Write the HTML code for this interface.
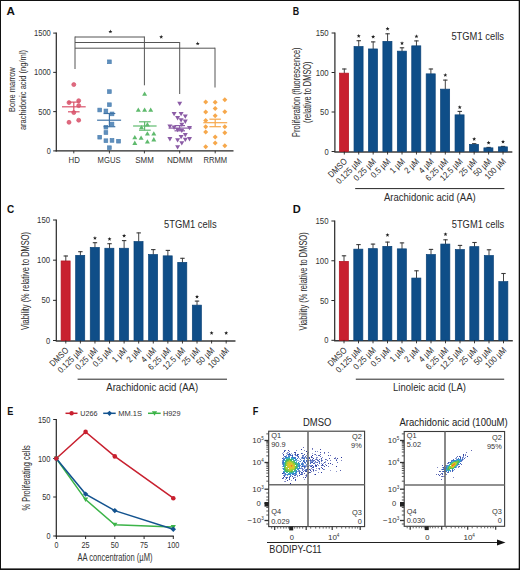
<!DOCTYPE html>
<html><head><meta charset="utf-8"><style>
html,body{margin:0;padding:0;background:#fff;}
svg{display:block;font-family:"Liberation Sans", sans-serif;}
</style></head><body>
<svg width="520" height="570" viewBox="0 0 520 570">
<rect x="0" y="0" width="520" height="570" fill="#fff"/>
<text x="6.60" y="14.70" font-size="11.6" text-anchor="start" fill="#111" font-weight="bold" textLength="8.40" lengthAdjust="spacingAndGlyphs" >A</text>
<text x="292.80" y="14.70" font-size="11.6" text-anchor="start" fill="#111" font-weight="bold" textLength="6.40" lengthAdjust="spacingAndGlyphs" >B</text>
<text x="6.90" y="213.40" font-size="11.6" text-anchor="start" fill="#111" font-weight="bold" textLength="7.20" lengthAdjust="spacingAndGlyphs" >C</text>
<text x="292.70" y="213.20" font-size="11.6" text-anchor="start" fill="#111" font-weight="bold" textLength="8.00" lengthAdjust="spacingAndGlyphs" >D</text>
<text x="7.30" y="414.80" font-size="11.6" text-anchor="start" fill="#111" font-weight="bold" textLength="6.10" lengthAdjust="spacingAndGlyphs" >E</text>
<text x="252.80" y="415.00" font-size="11.6" text-anchor="start" fill="#111" font-weight="bold" textLength="5.60" lengthAdjust="spacingAndGlyphs" >F</text>
<line x1="334.90" y1="32.50" x2="334.90" y2="152.00" stroke="#262626" stroke-width="1.2"/>
<line x1="334.30" y1="151.90" x2="512.33" y2="151.90" stroke="#3a3a3a" stroke-width="1.5"/>
<line x1="331.60" y1="151.50" x2="334.80" y2="151.50" stroke="#262626" stroke-width="1.0"/>
<text x="328.70" y="154.50" font-size="8.3" text-anchor="end" fill="#333" textLength="4.20" lengthAdjust="spacingAndGlyphs" >0</text>
<line x1="331.60" y1="112.00" x2="334.80" y2="112.00" stroke="#262626" stroke-width="1.0"/>
<text x="328.70" y="115.00" font-size="8.3" text-anchor="end" fill="#333" textLength="8.60" lengthAdjust="spacingAndGlyphs" >50</text>
<line x1="331.60" y1="72.50" x2="334.80" y2="72.50" stroke="#262626" stroke-width="1.0"/>
<text x="328.70" y="75.50" font-size="8.3" text-anchor="end" fill="#333" textLength="13.00" lengthAdjust="spacingAndGlyphs" >100</text>
<line x1="331.60" y1="33.00" x2="334.80" y2="33.00" stroke="#262626" stroke-width="1.0"/>
<text x="328.70" y="36.00" font-size="8.3" text-anchor="end" fill="#333" textLength="13.00" lengthAdjust="spacingAndGlyphs" >150</text>
<line x1="344.30" y1="68.60" x2="344.30" y2="73.30" stroke="#444" stroke-width="1.0"/>
<line x1="342.10" y1="69.00" x2="346.50" y2="69.00" stroke="#3a3a3a" stroke-width="1.1"/>
<rect x="339.60" y="73.15" width="9.05" height="78.35" fill="#c8202f" stroke="#b3121f" stroke-width="0.7"/>
<line x1="344.30" y1="151.50" x2="344.30" y2="154.50" stroke="#262626" stroke-width="0.9"/>
<text transform="translate(347.70,161.90) rotate(-45) scale(0.87,1)" font-size="8.8" text-anchor="end" fill="#2b2b2b">DMSO</text>
<line x1="358.73" y1="40.30" x2="358.73" y2="46.70" stroke="#444" stroke-width="1.0"/>
<line x1="356.53" y1="40.70" x2="360.93" y2="40.70" stroke="#3a3a3a" stroke-width="1.1"/>
<rect x="354.03" y="46.55" width="9.05" height="104.95" fill="#0f4e88" stroke="#0a4277" stroke-width="0.7"/>
<polygon points="358.73,33.95 359.26,35.32 360.73,35.40 359.59,36.33 359.96,37.75 358.73,36.95 357.50,37.75 357.87,36.33 356.73,35.40 358.20,35.32" fill="#222"/>
<line x1="358.73" y1="151.50" x2="358.73" y2="154.50" stroke="#262626" stroke-width="0.9"/>
<text transform="translate(362.13,161.90) rotate(-45) scale(0.87,1)" font-size="8.8" text-anchor="end" fill="#2b2b2b">0.125 µM</text>
<line x1="373.16" y1="41.50" x2="373.16" y2="49.10" stroke="#444" stroke-width="1.0"/>
<line x1="370.96" y1="41.90" x2="375.36" y2="41.90" stroke="#3a3a3a" stroke-width="1.1"/>
<rect x="368.46" y="48.95" width="9.05" height="102.55" fill="#0f4e88" stroke="#0a4277" stroke-width="0.7"/>
<polygon points="373.16,34.75 373.69,36.12 375.16,36.20 374.02,37.13 374.39,38.55 373.16,37.75 371.93,38.55 372.30,37.13 371.16,36.20 372.63,36.12" fill="#222"/>
<line x1="373.16" y1="151.50" x2="373.16" y2="154.50" stroke="#262626" stroke-width="0.9"/>
<text transform="translate(376.56,161.90) rotate(-45) scale(0.87,1)" font-size="8.8" text-anchor="end" fill="#2b2b2b">0.25 µM</text>
<line x1="387.59" y1="33.40" x2="387.59" y2="41.50" stroke="#444" stroke-width="1.0"/>
<line x1="385.39" y1="33.80" x2="389.79" y2="33.80" stroke="#3a3a3a" stroke-width="1.1"/>
<rect x="382.89" y="41.35" width="9.05" height="110.15" fill="#0f4e88" stroke="#0a4277" stroke-width="0.7"/>
<polygon points="387.59,26.65 388.12,28.02 389.59,28.10 388.45,29.03 388.82,30.45 387.59,29.65 386.36,30.45 386.73,29.03 385.59,28.10 387.06,28.02" fill="#222"/>
<line x1="387.59" y1="151.50" x2="387.59" y2="154.50" stroke="#262626" stroke-width="0.9"/>
<text transform="translate(390.99,161.90) rotate(-45) scale(0.87,1)" font-size="8.8" text-anchor="end" fill="#2b2b2b">0.5 µM</text>
<line x1="402.02" y1="47.40" x2="402.02" y2="51.30" stroke="#444" stroke-width="1.0"/>
<line x1="399.82" y1="47.80" x2="404.22" y2="47.80" stroke="#3a3a3a" stroke-width="1.1"/>
<rect x="397.32" y="51.15" width="9.05" height="100.35" fill="#0f4e88" stroke="#0a4277" stroke-width="0.7"/>
<polygon points="402.02,41.15 402.55,42.52 404.02,42.60 402.88,43.53 403.25,44.95 402.02,44.15 400.79,44.95 401.16,43.53 400.02,42.60 401.49,42.52" fill="#222"/>
<line x1="402.02" y1="151.50" x2="402.02" y2="154.50" stroke="#262626" stroke-width="0.9"/>
<text transform="translate(405.42,161.90) rotate(-45) scale(0.87,1)" font-size="8.8" text-anchor="end" fill="#2b2b2b">1 µM</text>
<line x1="416.45" y1="40.50" x2="416.45" y2="46.00" stroke="#444" stroke-width="1.0"/>
<line x1="414.25" y1="40.90" x2="418.65" y2="40.90" stroke="#3a3a3a" stroke-width="1.1"/>
<rect x="411.75" y="45.85" width="9.05" height="105.65" fill="#0f4e88" stroke="#0a4277" stroke-width="0.7"/>
<polygon points="416.45,34.35 416.98,35.72 418.45,35.80 417.31,36.73 417.68,38.15 416.45,37.35 415.22,38.15 415.59,36.73 414.45,35.80 415.92,35.72" fill="#222"/>
<line x1="416.45" y1="151.50" x2="416.45" y2="154.50" stroke="#262626" stroke-width="0.9"/>
<text transform="translate(419.85,161.90) rotate(-45) scale(0.87,1)" font-size="8.8" text-anchor="end" fill="#2b2b2b">2 µM</text>
<line x1="430.88" y1="68.60" x2="430.88" y2="74.00" stroke="#444" stroke-width="1.0"/>
<line x1="428.68" y1="69.00" x2="433.08" y2="69.00" stroke="#3a3a3a" stroke-width="1.1"/>
<rect x="426.18" y="73.85" width="9.05" height="77.65" fill="#0f4e88" stroke="#0a4277" stroke-width="0.7"/>
<line x1="430.88" y1="151.50" x2="430.88" y2="154.50" stroke="#262626" stroke-width="0.9"/>
<text transform="translate(434.28,161.90) rotate(-45) scale(0.87,1)" font-size="8.8" text-anchor="end" fill="#2b2b2b">4 µM</text>
<line x1="445.31" y1="79.70" x2="445.31" y2="89.30" stroke="#444" stroke-width="1.0"/>
<line x1="443.11" y1="80.10" x2="447.51" y2="80.10" stroke="#3a3a3a" stroke-width="1.1"/>
<rect x="440.61" y="89.15" width="9.05" height="62.35" fill="#0f4e88" stroke="#0a4277" stroke-width="0.7"/>
<polygon points="445.31,73.05 445.84,74.42 447.31,74.50 446.17,75.43 446.54,76.85 445.31,76.05 444.08,76.85 444.45,75.43 443.31,74.50 444.78,74.42" fill="#222"/>
<line x1="445.31" y1="151.50" x2="445.31" y2="154.50" stroke="#262626" stroke-width="0.9"/>
<text transform="translate(448.71,161.90) rotate(-45) scale(0.87,1)" font-size="8.8" text-anchor="end" fill="#2b2b2b">6.25 µM</text>
<line x1="459.74" y1="111.00" x2="459.74" y2="115.00" stroke="#444" stroke-width="1.0"/>
<line x1="457.54" y1="111.40" x2="461.94" y2="111.40" stroke="#3a3a3a" stroke-width="1.1"/>
<rect x="455.04" y="114.85" width="9.05" height="36.65" fill="#0f4e88" stroke="#0a4277" stroke-width="0.7"/>
<polygon points="459.74,105.15 460.27,106.52 461.74,106.60 460.60,107.53 460.97,108.95 459.74,108.15 458.51,108.95 458.88,107.53 457.74,106.60 459.21,106.52" fill="#222"/>
<line x1="459.74" y1="151.50" x2="459.74" y2="154.50" stroke="#262626" stroke-width="0.9"/>
<text transform="translate(463.14,161.90) rotate(-45) scale(0.87,1)" font-size="8.8" text-anchor="end" fill="#2b2b2b">12.5 µM</text>
<line x1="474.17" y1="143.30" x2="474.17" y2="144.50" stroke="#444" stroke-width="1.0"/>
<line x1="471.97" y1="143.70" x2="476.37" y2="143.70" stroke="#3a3a3a" stroke-width="1.1"/>
<rect x="469.47" y="144.35" width="9.05" height="7.15" fill="#0f4e88" stroke="#0a4277" stroke-width="0.7"/>
<polygon points="474.17,136.95 474.70,138.32 476.17,138.40 475.03,139.33 475.40,140.75 474.17,139.95 472.94,140.75 473.31,139.33 472.17,138.40 473.64,138.32" fill="#222"/>
<line x1="474.17" y1="151.50" x2="474.17" y2="154.50" stroke="#262626" stroke-width="0.9"/>
<text transform="translate(477.57,161.90) rotate(-45) scale(0.87,1)" font-size="8.8" text-anchor="end" fill="#2b2b2b">25 µM</text>
<line x1="488.60" y1="147.00" x2="488.60" y2="148.00" stroke="#444" stroke-width="1.0"/>
<line x1="486.40" y1="147.40" x2="490.80" y2="147.40" stroke="#3a3a3a" stroke-width="1.1"/>
<rect x="483.90" y="147.85" width="9.05" height="3.65" fill="#0f4e88" stroke="#0a4277" stroke-width="0.7"/>
<polygon points="488.60,140.65 489.13,142.02 490.60,142.10 489.46,143.03 489.83,144.45 488.60,143.65 487.37,144.45 487.74,143.03 486.60,142.10 488.07,142.02" fill="#222"/>
<line x1="488.60" y1="151.50" x2="488.60" y2="154.50" stroke="#262626" stroke-width="0.9"/>
<text transform="translate(492.00,161.90) rotate(-45) scale(0.87,1)" font-size="8.8" text-anchor="end" fill="#2b2b2b">50 µM</text>
<line x1="503.03" y1="146.00" x2="503.03" y2="147.00" stroke="#444" stroke-width="1.0"/>
<line x1="500.83" y1="146.40" x2="505.23" y2="146.40" stroke="#3a3a3a" stroke-width="1.1"/>
<rect x="498.33" y="146.85" width="9.05" height="4.65" fill="#0f4e88" stroke="#0a4277" stroke-width="0.7"/>
<polygon points="503.03,139.65 503.56,141.02 505.03,141.10 503.89,142.03 504.26,143.45 503.03,142.65 501.80,143.45 502.17,142.03 501.03,141.10 502.50,141.02" fill="#222"/>
<line x1="503.03" y1="151.50" x2="503.03" y2="154.50" stroke="#262626" stroke-width="0.9"/>
<text transform="translate(506.43,161.90) rotate(-45) scale(0.87,1)" font-size="8.8" text-anchor="end" fill="#2b2b2b">100 µM</text>
<text transform="translate(300.10,92.15) rotate(-90)" font-size="10.0" text-anchor="middle" fill="#2b2b2b" textLength="89.50" lengthAdjust="spacingAndGlyphs">Proliferation (fluorescence)</text>
<text transform="translate(311.00,92.15) rotate(-90)" font-size="10.0" text-anchor="middle" fill="#2b2b2b" textLength="61.50" lengthAdjust="spacingAndGlyphs">(relative to DMSO)</text>
<text x="451.40" y="39.90" font-size="10.4" text-anchor="start" fill="#2a2a2a" textLength="52.60" lengthAdjust="spacingAndGlyphs" >5TGM1 cells</text>
<line x1="355.20" y1="188.60" x2="504.40" y2="188.60" stroke="#262626" stroke-width="1.0"/>
<text x="429.80" y="201.00" font-size="10.0" text-anchor="middle" fill="#2a2a2a" textLength="91.80" lengthAdjust="spacingAndGlyphs" >Arachidonic acid (AA)</text>
<line x1="56.30" y1="219.50" x2="56.30" y2="341.00" stroke="#262626" stroke-width="1.2"/>
<line x1="55.70" y1="340.90" x2="235.48" y2="340.90" stroke="#3a3a3a" stroke-width="1.5"/>
<line x1="53.00" y1="340.50" x2="56.20" y2="340.50" stroke="#262626" stroke-width="1.0"/>
<text x="50.10" y="343.50" font-size="8.3" text-anchor="end" fill="#333" textLength="4.20" lengthAdjust="spacingAndGlyphs" >0</text>
<line x1="53.00" y1="300.33" x2="56.20" y2="300.33" stroke="#262626" stroke-width="1.0"/>
<text x="50.10" y="303.33" font-size="8.3" text-anchor="end" fill="#333" textLength="8.60" lengthAdjust="spacingAndGlyphs" >50</text>
<line x1="53.00" y1="260.17" x2="56.20" y2="260.17" stroke="#262626" stroke-width="1.0"/>
<text x="50.10" y="263.17" font-size="8.3" text-anchor="end" fill="#333" textLength="13.00" lengthAdjust="spacingAndGlyphs" >100</text>
<line x1="53.00" y1="220.00" x2="56.20" y2="220.00" stroke="#262626" stroke-width="1.0"/>
<text x="50.10" y="223.00" font-size="8.3" text-anchor="end" fill="#333" textLength="13.00" lengthAdjust="spacingAndGlyphs" >150</text>
<line x1="65.80" y1="255.60" x2="65.80" y2="261.10" stroke="#444" stroke-width="1.0"/>
<line x1="63.60" y1="256.00" x2="68.00" y2="256.00" stroke="#3a3a3a" stroke-width="1.1"/>
<rect x="61.10" y="260.95" width="9.05" height="79.55" fill="#c8202f" stroke="#b3121f" stroke-width="0.7"/>
<line x1="65.80" y1="340.50" x2="65.80" y2="343.50" stroke="#262626" stroke-width="0.9"/>
<text transform="translate(69.20,350.90) rotate(-45) scale(0.87,1)" font-size="8.8" text-anchor="end" fill="#2b2b2b">DMSO</text>
<line x1="80.38" y1="251.30" x2="80.38" y2="255.50" stroke="#444" stroke-width="1.0"/>
<line x1="78.18" y1="251.70" x2="82.58" y2="251.70" stroke="#3a3a3a" stroke-width="1.1"/>
<rect x="75.68" y="255.35" width="9.05" height="85.15" fill="#0f4e88" stroke="#0a4277" stroke-width="0.7"/>
<line x1="80.38" y1="340.50" x2="80.38" y2="343.50" stroke="#262626" stroke-width="0.9"/>
<text transform="translate(83.78,350.90) rotate(-45) scale(0.87,1)" font-size="8.8" text-anchor="end" fill="#2b2b2b">0.125 µM</text>
<line x1="94.96" y1="242.30" x2="94.96" y2="247.60" stroke="#444" stroke-width="1.0"/>
<line x1="92.76" y1="242.70" x2="97.16" y2="242.70" stroke="#3a3a3a" stroke-width="1.1"/>
<rect x="90.26" y="247.45" width="9.05" height="93.05" fill="#0f4e88" stroke="#0a4277" stroke-width="0.7"/>
<polygon points="94.96,236.05 95.49,237.42 96.96,237.50 95.82,238.43 96.19,239.85 94.96,239.05 93.73,239.85 94.10,238.43 92.96,237.50 94.43,237.42" fill="#222"/>
<line x1="94.96" y1="340.50" x2="94.96" y2="343.50" stroke="#262626" stroke-width="0.9"/>
<text transform="translate(98.36,350.90) rotate(-45) scale(0.87,1)" font-size="8.8" text-anchor="end" fill="#2b2b2b">0.25 µM</text>
<line x1="109.54" y1="243.30" x2="109.54" y2="248.40" stroke="#444" stroke-width="1.0"/>
<line x1="107.34" y1="243.70" x2="111.74" y2="243.70" stroke="#3a3a3a" stroke-width="1.1"/>
<rect x="104.84" y="248.25" width="9.05" height="92.25" fill="#0f4e88" stroke="#0a4277" stroke-width="0.7"/>
<polygon points="109.54,236.95 110.07,238.32 111.54,238.40 110.40,239.33 110.77,240.75 109.54,239.95 108.31,240.75 108.68,239.33 107.54,238.40 109.01,238.32" fill="#222"/>
<line x1="109.54" y1="340.50" x2="109.54" y2="343.50" stroke="#262626" stroke-width="0.9"/>
<text transform="translate(112.94,350.90) rotate(-45) scale(0.87,1)" font-size="8.8" text-anchor="end" fill="#2b2b2b">0.5 µM</text>
<line x1="124.12" y1="240.20" x2="124.12" y2="248.40" stroke="#444" stroke-width="1.0"/>
<line x1="121.92" y1="240.60" x2="126.32" y2="240.60" stroke="#3a3a3a" stroke-width="1.1"/>
<rect x="119.42" y="248.25" width="9.05" height="92.25" fill="#0f4e88" stroke="#0a4277" stroke-width="0.7"/>
<polygon points="124.12,233.75 124.65,235.12 126.12,235.20 124.98,236.13 125.35,237.55 124.12,236.75 122.89,237.55 123.26,236.13 122.12,235.20 123.59,235.12" fill="#222"/>
<line x1="124.12" y1="340.50" x2="124.12" y2="343.50" stroke="#262626" stroke-width="0.9"/>
<text transform="translate(127.52,350.90) rotate(-45) scale(0.87,1)" font-size="8.8" text-anchor="end" fill="#2b2b2b">1 µM</text>
<line x1="138.70" y1="232.50" x2="138.70" y2="241.70" stroke="#444" stroke-width="1.0"/>
<line x1="136.50" y1="232.90" x2="140.90" y2="232.90" stroke="#3a3a3a" stroke-width="1.1"/>
<rect x="134.00" y="241.55" width="9.05" height="98.95" fill="#0f4e88" stroke="#0a4277" stroke-width="0.7"/>
<line x1="138.70" y1="340.50" x2="138.70" y2="343.50" stroke="#262626" stroke-width="0.9"/>
<text transform="translate(142.10,350.90) rotate(-45) scale(0.87,1)" font-size="8.8" text-anchor="end" fill="#2b2b2b">2 µM</text>
<line x1="153.28" y1="249.20" x2="153.28" y2="254.70" stroke="#444" stroke-width="1.0"/>
<line x1="151.08" y1="249.60" x2="155.48" y2="249.60" stroke="#3a3a3a" stroke-width="1.1"/>
<rect x="148.58" y="254.55" width="9.05" height="85.95" fill="#0f4e88" stroke="#0a4277" stroke-width="0.7"/>
<line x1="153.28" y1="340.50" x2="153.28" y2="343.50" stroke="#262626" stroke-width="0.9"/>
<text transform="translate(156.68,350.90) rotate(-45) scale(0.87,1)" font-size="8.8" text-anchor="end" fill="#2b2b2b">4 µM</text>
<line x1="167.86" y1="250.00" x2="167.86" y2="256.00" stroke="#444" stroke-width="1.0"/>
<line x1="165.66" y1="250.40" x2="170.06" y2="250.40" stroke="#3a3a3a" stroke-width="1.1"/>
<rect x="163.16" y="255.85" width="9.05" height="84.65" fill="#0f4e88" stroke="#0a4277" stroke-width="0.7"/>
<line x1="167.86" y1="340.50" x2="167.86" y2="343.50" stroke="#262626" stroke-width="0.9"/>
<text transform="translate(171.26,350.90) rotate(-45) scale(0.87,1)" font-size="8.8" text-anchor="end" fill="#2b2b2b">6.25 µM</text>
<line x1="182.44" y1="257.90" x2="182.44" y2="262.50" stroke="#444" stroke-width="1.0"/>
<line x1="180.24" y1="258.30" x2="184.64" y2="258.30" stroke="#3a3a3a" stroke-width="1.1"/>
<rect x="177.74" y="262.35" width="9.05" height="78.15" fill="#0f4e88" stroke="#0a4277" stroke-width="0.7"/>
<line x1="182.44" y1="340.50" x2="182.44" y2="343.50" stroke="#262626" stroke-width="0.9"/>
<text transform="translate(185.84,350.90) rotate(-45) scale(0.87,1)" font-size="8.8" text-anchor="end" fill="#2b2b2b">12.5 µM</text>
<line x1="197.02" y1="300.70" x2="197.02" y2="305.30" stroke="#444" stroke-width="1.0"/>
<line x1="194.82" y1="301.10" x2="199.22" y2="301.10" stroke="#3a3a3a" stroke-width="1.1"/>
<rect x="192.32" y="305.15" width="9.05" height="35.35" fill="#0f4e88" stroke="#0a4277" stroke-width="0.7"/>
<polygon points="197.02,294.65 197.55,296.02 199.02,296.10 197.88,297.03 198.25,298.45 197.02,297.65 195.79,298.45 196.16,297.03 195.02,296.10 196.49,296.02" fill="#222"/>
<line x1="197.02" y1="340.50" x2="197.02" y2="343.50" stroke="#262626" stroke-width="0.9"/>
<text transform="translate(200.42,350.90) rotate(-45) scale(0.87,1)" font-size="8.8" text-anchor="end" fill="#2b2b2b">25 µM</text>
<polygon points="211.60,330.95 212.13,332.32 213.60,332.40 212.46,333.33 212.83,334.75 211.60,333.95 210.37,334.75 210.74,333.33 209.60,332.40 211.07,332.32" fill="#222"/>
<line x1="211.60" y1="340.50" x2="211.60" y2="343.50" stroke="#262626" stroke-width="0.9"/>
<text transform="translate(215.00,350.90) rotate(-45) scale(0.87,1)" font-size="8.8" text-anchor="end" fill="#2b2b2b">50 µM</text>
<polygon points="226.18,330.95 226.71,332.32 228.18,332.40 227.04,333.33 227.41,334.75 226.18,333.95 224.95,334.75 225.32,333.33 224.18,332.40 225.65,332.32" fill="#222"/>
<line x1="226.18" y1="340.50" x2="226.18" y2="343.50" stroke="#262626" stroke-width="0.9"/>
<text transform="translate(229.58,350.90) rotate(-45) scale(0.87,1)" font-size="8.8" text-anchor="end" fill="#2b2b2b">100 µM</text>
<text transform="translate(29.30,281.00) rotate(-90)" font-size="10.0" text-anchor="middle" fill="#2b2b2b" textLength="97.90" lengthAdjust="spacingAndGlyphs">Viability (% relative to DMSO)</text>
<text x="164.00" y="228.40" font-size="10.4" text-anchor="start" fill="#2a2a2a" textLength="52.60" lengthAdjust="spacingAndGlyphs" >5TGM1 cells</text>
<line x1="77.60" y1="379.20" x2="227.00" y2="379.20" stroke="#262626" stroke-width="1.0"/>
<text x="152.20" y="391.20" font-size="10.0" text-anchor="middle" fill="#2a2a2a" textLength="91.80" lengthAdjust="spacingAndGlyphs" >Arachidonic acid (AA)</text>
<line x1="334.70" y1="220.50" x2="334.70" y2="340.80" stroke="#262626" stroke-width="1.2"/>
<line x1="334.10" y1="340.70" x2="512.80" y2="340.70" stroke="#3a3a3a" stroke-width="1.5"/>
<line x1="331.40" y1="340.30" x2="334.60" y2="340.30" stroke="#262626" stroke-width="1.0"/>
<text x="328.50" y="343.30" font-size="8.3" text-anchor="end" fill="#333" textLength="4.20" lengthAdjust="spacingAndGlyphs" >0</text>
<line x1="331.40" y1="300.53" x2="334.60" y2="300.53" stroke="#262626" stroke-width="1.0"/>
<text x="328.50" y="303.53" font-size="8.3" text-anchor="end" fill="#333" textLength="8.60" lengthAdjust="spacingAndGlyphs" >50</text>
<line x1="331.40" y1="260.77" x2="334.60" y2="260.77" stroke="#262626" stroke-width="1.0"/>
<text x="328.50" y="263.77" font-size="8.3" text-anchor="end" fill="#333" textLength="13.00" lengthAdjust="spacingAndGlyphs" >100</text>
<line x1="331.40" y1="221.00" x2="334.60" y2="221.00" stroke="#262626" stroke-width="1.0"/>
<text x="328.50" y="224.00" font-size="8.3" text-anchor="end" fill="#333" textLength="13.00" lengthAdjust="spacingAndGlyphs" >150</text>
<line x1="344.00" y1="255.40" x2="344.00" y2="261.50" stroke="#444" stroke-width="1.0"/>
<line x1="341.80" y1="255.80" x2="346.20" y2="255.80" stroke="#3a3a3a" stroke-width="1.1"/>
<rect x="339.30" y="261.35" width="9.05" height="78.95" fill="#c8202f" stroke="#b3121f" stroke-width="0.7"/>
<line x1="344.00" y1="340.30" x2="344.00" y2="343.30" stroke="#262626" stroke-width="0.9"/>
<text transform="translate(347.40,350.70) rotate(-45) scale(0.87,1)" font-size="8.8" text-anchor="end" fill="#2b2b2b">DMSO</text>
<line x1="358.50" y1="244.20" x2="358.50" y2="249.30" stroke="#444" stroke-width="1.0"/>
<line x1="356.30" y1="244.60" x2="360.70" y2="244.60" stroke="#3a3a3a" stroke-width="1.1"/>
<rect x="353.80" y="249.15" width="9.05" height="91.15" fill="#0f4e88" stroke="#0a4277" stroke-width="0.7"/>
<line x1="358.50" y1="340.30" x2="358.50" y2="343.30" stroke="#262626" stroke-width="0.9"/>
<text transform="translate(361.90,350.70) rotate(-45) scale(0.87,1)" font-size="8.8" text-anchor="end" fill="#2b2b2b">0.125 µM</text>
<line x1="373.00" y1="243.70" x2="373.00" y2="248.80" stroke="#444" stroke-width="1.0"/>
<line x1="370.80" y1="244.10" x2="375.20" y2="244.10" stroke="#3a3a3a" stroke-width="1.1"/>
<rect x="368.30" y="248.65" width="9.05" height="91.65" fill="#0f4e88" stroke="#0a4277" stroke-width="0.7"/>
<line x1="373.00" y1="340.30" x2="373.00" y2="343.30" stroke="#262626" stroke-width="0.9"/>
<text transform="translate(376.40,350.70) rotate(-45) scale(0.87,1)" font-size="8.8" text-anchor="end" fill="#2b2b2b">0.25 µM</text>
<line x1="387.50" y1="241.70" x2="387.50" y2="246.50" stroke="#444" stroke-width="1.0"/>
<line x1="385.30" y1="242.10" x2="389.70" y2="242.10" stroke="#3a3a3a" stroke-width="1.1"/>
<rect x="382.80" y="246.35" width="9.05" height="93.95" fill="#0f4e88" stroke="#0a4277" stroke-width="0.7"/>
<polygon points="387.50,232.95 388.03,234.32 389.50,234.40 388.36,235.33 388.73,236.75 387.50,235.95 386.27,236.75 386.64,235.33 385.50,234.40 386.97,234.32" fill="#222"/>
<line x1="387.50" y1="340.30" x2="387.50" y2="343.30" stroke="#262626" stroke-width="0.9"/>
<text transform="translate(390.90,350.70) rotate(-45) scale(0.87,1)" font-size="8.8" text-anchor="end" fill="#2b2b2b">0.5 µM</text>
<line x1="402.00" y1="242.50" x2="402.00" y2="249.00" stroke="#444" stroke-width="1.0"/>
<line x1="399.80" y1="242.90" x2="404.20" y2="242.90" stroke="#3a3a3a" stroke-width="1.1"/>
<rect x="397.30" y="248.85" width="9.05" height="91.45" fill="#0f4e88" stroke="#0a4277" stroke-width="0.7"/>
<line x1="402.00" y1="340.30" x2="402.00" y2="343.30" stroke="#262626" stroke-width="0.9"/>
<text transform="translate(405.40,350.70) rotate(-45) scale(0.87,1)" font-size="8.8" text-anchor="end" fill="#2b2b2b">1 µM</text>
<line x1="416.50" y1="270.40" x2="416.50" y2="278.20" stroke="#444" stroke-width="1.0"/>
<line x1="414.30" y1="270.80" x2="418.70" y2="270.80" stroke="#3a3a3a" stroke-width="1.1"/>
<rect x="411.80" y="278.05" width="9.05" height="62.25" fill="#0f4e88" stroke="#0a4277" stroke-width="0.7"/>
<line x1="416.50" y1="340.30" x2="416.50" y2="343.30" stroke="#262626" stroke-width="0.9"/>
<text transform="translate(419.90,350.70) rotate(-45) scale(0.87,1)" font-size="8.8" text-anchor="end" fill="#2b2b2b">2 µM</text>
<line x1="431.00" y1="249.00" x2="431.00" y2="254.70" stroke="#444" stroke-width="1.0"/>
<line x1="428.80" y1="249.40" x2="433.20" y2="249.40" stroke="#3a3a3a" stroke-width="1.1"/>
<rect x="426.30" y="254.55" width="9.05" height="85.75" fill="#0f4e88" stroke="#0a4277" stroke-width="0.7"/>
<line x1="431.00" y1="340.30" x2="431.00" y2="343.30" stroke="#262626" stroke-width="0.9"/>
<text transform="translate(434.40,350.70) rotate(-45) scale(0.87,1)" font-size="8.8" text-anchor="end" fill="#2b2b2b">4 µM</text>
<line x1="445.50" y1="239.40" x2="445.50" y2="244.20" stroke="#444" stroke-width="1.0"/>
<line x1="443.30" y1="239.80" x2="447.70" y2="239.80" stroke="#3a3a3a" stroke-width="1.1"/>
<rect x="440.80" y="244.05" width="9.05" height="96.25" fill="#0f4e88" stroke="#0a4277" stroke-width="0.7"/>
<polygon points="445.50,232.15 446.03,233.52 447.50,233.60 446.36,234.53 446.73,235.95 445.50,235.15 444.27,235.95 444.64,234.53 443.50,233.60 444.97,233.52" fill="#222"/>
<line x1="445.50" y1="340.30" x2="445.50" y2="343.30" stroke="#262626" stroke-width="0.9"/>
<text transform="translate(448.90,350.70) rotate(-45) scale(0.87,1)" font-size="8.8" text-anchor="end" fill="#2b2b2b">6.25 µM</text>
<line x1="460.00" y1="245.00" x2="460.00" y2="249.70" stroke="#444" stroke-width="1.0"/>
<line x1="457.80" y1="245.40" x2="462.20" y2="245.40" stroke="#3a3a3a" stroke-width="1.1"/>
<rect x="455.30" y="249.55" width="9.05" height="90.75" fill="#0f4e88" stroke="#0a4277" stroke-width="0.7"/>
<line x1="460.00" y1="340.30" x2="460.00" y2="343.30" stroke="#262626" stroke-width="0.9"/>
<text transform="translate(463.40,350.70) rotate(-45) scale(0.87,1)" font-size="8.8" text-anchor="end" fill="#2b2b2b">12.5 µM</text>
<line x1="474.50" y1="242.10" x2="474.50" y2="246.80" stroke="#444" stroke-width="1.0"/>
<line x1="472.30" y1="242.50" x2="476.70" y2="242.50" stroke="#3a3a3a" stroke-width="1.1"/>
<rect x="469.80" y="246.65" width="9.05" height="93.65" fill="#0f4e88" stroke="#0a4277" stroke-width="0.7"/>
<line x1="474.50" y1="340.30" x2="474.50" y2="343.30" stroke="#262626" stroke-width="0.9"/>
<text transform="translate(477.90,350.70) rotate(-45) scale(0.87,1)" font-size="8.8" text-anchor="end" fill="#2b2b2b">25 µM</text>
<line x1="489.00" y1="249.40" x2="489.00" y2="255.70" stroke="#444" stroke-width="1.0"/>
<line x1="486.80" y1="249.80" x2="491.20" y2="249.80" stroke="#3a3a3a" stroke-width="1.1"/>
<rect x="484.30" y="255.55" width="9.05" height="84.75" fill="#0f4e88" stroke="#0a4277" stroke-width="0.7"/>
<line x1="489.00" y1="340.30" x2="489.00" y2="343.30" stroke="#262626" stroke-width="0.9"/>
<text transform="translate(492.40,350.70) rotate(-45) scale(0.87,1)" font-size="8.8" text-anchor="end" fill="#2b2b2b">50 µM</text>
<line x1="503.50" y1="273.10" x2="503.50" y2="281.80" stroke="#444" stroke-width="1.0"/>
<line x1="501.30" y1="273.50" x2="505.70" y2="273.50" stroke="#3a3a3a" stroke-width="1.1"/>
<rect x="498.80" y="281.65" width="9.05" height="58.65" fill="#0f4e88" stroke="#0a4277" stroke-width="0.7"/>
<line x1="503.50" y1="340.30" x2="503.50" y2="343.30" stroke="#262626" stroke-width="0.9"/>
<text transform="translate(506.90,350.70) rotate(-45) scale(0.87,1)" font-size="8.8" text-anchor="end" fill="#2b2b2b">100 µM</text>
<text transform="translate(307.20,281.40) rotate(-90)" font-size="10.0" text-anchor="middle" fill="#2b2b2b" textLength="98.10" lengthAdjust="spacingAndGlyphs">Viability (% relative to DMSO)</text>
<text x="451.70" y="228.30" font-size="10.4" text-anchor="start" fill="#2a2a2a" textLength="52.60" lengthAdjust="spacingAndGlyphs" >5TGM1 cells</text>
<line x1="355.80" y1="379.20" x2="504.20" y2="379.20" stroke="#262626" stroke-width="1.0"/>
<text x="429.50" y="391.20" font-size="10.0" text-anchor="middle" fill="#2a2a2a" textLength="72.80" lengthAdjust="spacingAndGlyphs" >Linoleic acid (LA)</text>
<line x1="56.30" y1="32.60" x2="56.30" y2="151.40" stroke="#262626" stroke-width="1.2"/>
<line x1="55.70" y1="150.90" x2="233.50" y2="150.90" stroke="#262626" stroke-width="1.1"/>
<line x1="53.20" y1="150.90" x2="56.20" y2="150.90" stroke="#262626" stroke-width="1.0"/>
<text x="50.80" y="153.90" font-size="8.2" text-anchor="end" fill="#333" textLength="4.05" lengthAdjust="spacingAndGlyphs" >0</text>
<line x1="53.20" y1="111.63" x2="56.20" y2="111.63" stroke="#262626" stroke-width="1.0"/>
<text x="50.80" y="114.63" font-size="8.2" text-anchor="end" fill="#333" textLength="12.55" lengthAdjust="spacingAndGlyphs" >500</text>
<line x1="53.20" y1="72.37" x2="56.20" y2="72.37" stroke="#262626" stroke-width="1.0"/>
<text x="50.80" y="75.37" font-size="8.2" text-anchor="end" fill="#333" textLength="16.80" lengthAdjust="spacingAndGlyphs" >1000</text>
<line x1="53.20" y1="33.10" x2="56.20" y2="33.10" stroke="#262626" stroke-width="1.0"/>
<text x="50.80" y="36.10" font-size="8.2" text-anchor="end" fill="#333" textLength="16.80" lengthAdjust="spacingAndGlyphs" >1500</text>
<text transform="translate(15.20,89.60) rotate(-90)" font-size="9.8" text-anchor="middle" fill="#2b2b2b" textLength="44.80" lengthAdjust="spacingAndGlyphs">Bone marrow</text>
<text transform="translate(26.30,90.00) rotate(-90)" font-size="9.8" text-anchor="middle" fill="#2b2b2b" textLength="80.20" lengthAdjust="spacingAndGlyphs">arachidonic acid (ng/ml)</text>
<line x1="73.80" y1="150.90" x2="73.80" y2="153.40" stroke="#262626" stroke-width="0.9"/>
<text x="74.15" y="162.90" font-size="8.8" text-anchor="middle" fill="#333" textLength="11.30" lengthAdjust="spacingAndGlyphs" >HD</text>
<line x1="109.40" y1="150.90" x2="109.40" y2="153.40" stroke="#262626" stroke-width="0.9"/>
<text x="109.05" y="162.90" font-size="8.8" text-anchor="middle" fill="#333" textLength="22.90" lengthAdjust="spacingAndGlyphs" >MGUS</text>
<line x1="144.40" y1="150.90" x2="144.40" y2="153.40" stroke="#262626" stroke-width="0.9"/>
<text x="144.60" y="162.90" font-size="8.8" text-anchor="middle" fill="#333" textLength="18.60" lengthAdjust="spacingAndGlyphs" >SMM</text>
<line x1="179.70" y1="150.90" x2="179.70" y2="153.40" stroke="#262626" stroke-width="0.9"/>
<text x="179.70" y="162.90" font-size="8.8" text-anchor="middle" fill="#333" textLength="25.60" lengthAdjust="spacingAndGlyphs" >NDMM</text>
<line x1="215.20" y1="150.90" x2="215.20" y2="153.40" stroke="#262626" stroke-width="0.9"/>
<text x="215.40" y="162.90" font-size="8.8" text-anchor="middle" fill="#333" textLength="23.60" lengthAdjust="spacingAndGlyphs" >RRMM</text>
<line x1="75.00" y1="37.00" x2="144.40" y2="37.00" stroke="#555" stroke-width="1.0"/>
<line x1="75.00" y1="42.50" x2="179.70" y2="42.50" stroke="#555" stroke-width="1.0"/>
<line x1="75.00" y1="48.20" x2="215.00" y2="48.20" stroke="#555" stroke-width="1.0"/>
<line x1="75.00" y1="36.50" x2="75.00" y2="69.00" stroke="#555" stroke-width="1.0"/>
<line x1="144.40" y1="36.50" x2="144.40" y2="85.30" stroke="#555" stroke-width="1.0"/>
<line x1="179.70" y1="42.00" x2="179.70" y2="94.00" stroke="#555" stroke-width="1.0"/>
<line x1="215.00" y1="47.70" x2="215.00" y2="87.50" stroke="#555" stroke-width="1.0"/>
<polygon points="110.40,29.55 110.93,30.92 112.40,31.00 111.26,31.93 111.63,33.35 110.40,32.55 109.17,33.35 109.54,31.93 108.40,31.00 109.87,30.92" fill="#222"/>
<polygon points="161.20,34.85 161.73,36.22 163.20,36.30 162.06,37.23 162.43,38.65 161.20,37.85 159.97,38.65 160.34,37.23 159.20,36.30 160.67,36.22" fill="#222"/>
<polygon points="197.70,41.55 198.23,42.92 199.70,43.00 198.56,43.93 198.93,45.35 197.70,44.55 196.47,45.35 196.84,43.93 195.70,43.00 197.17,42.92" fill="#222"/>
<circle cx="73.8" cy="84.6" r="2.0" fill="#de6a80" stroke="#d9546b" stroke-width="0.7"/>
<circle cx="69" cy="102.6" r="2.0" fill="#de6a80" stroke="#d9546b" stroke-width="0.7"/>
<circle cx="78.7" cy="100.7" r="2.0" fill="#de6a80" stroke="#d9546b" stroke-width="0.7"/>
<circle cx="78.7" cy="105.6" r="2.0" fill="#de6a80" stroke="#d9546b" stroke-width="0.7"/>
<circle cx="73.8" cy="112.6" r="2.0" fill="#de6a80" stroke="#d9546b" stroke-width="0.7"/>
<circle cx="69" cy="122.3" r="2.0" fill="#de6a80" stroke="#d9546b" stroke-width="0.7"/>
<circle cx="78.7" cy="120.2" r="2.0" fill="#de6a80" stroke="#d9546b" stroke-width="0.7"/>
<rect x="107.55" y="59.95" width="3.7" height="3.7" fill="#5f8fbd" stroke="#4f82b3" stroke-width="0.7"/>
<rect x="107.55" y="89.75" width="3.7" height="3.7" fill="#5f8fbd" stroke="#4f82b3" stroke-width="0.7"/>
<rect x="107.55" y="102.85" width="3.7" height="3.7" fill="#5f8fbd" stroke="#4f82b3" stroke-width="0.7"/>
<rect x="97.85" y="108.15" width="3.7" height="3.7" fill="#5f8fbd" stroke="#4f82b3" stroke-width="0.7"/>
<rect x="104.05" y="109.05" width="3.7" height="3.7" fill="#5f8fbd" stroke="#4f82b3" stroke-width="0.7"/>
<rect x="110.15" y="112.05" width="3.7" height="3.7" fill="#5f8fbd" stroke="#4f82b3" stroke-width="0.7"/>
<rect x="110.15" y="122.15" width="3.7" height="3.7" fill="#5f8fbd" stroke="#4f82b3" stroke-width="0.7"/>
<rect x="104.05" y="125.35" width="3.7" height="3.7" fill="#5f8fbd" stroke="#4f82b3" stroke-width="0.7"/>
<rect x="104.05" y="130.65" width="3.7" height="3.7" fill="#5f8fbd" stroke="#4f82b3" stroke-width="0.7"/>
<rect x="97.85" y="135.35" width="3.7" height="3.7" fill="#5f8fbd" stroke="#4f82b3" stroke-width="0.7"/>
<rect x="104.05" y="138.85" width="3.7" height="3.7" fill="#5f8fbd" stroke="#4f82b3" stroke-width="0.7"/>
<rect x="110.15" y="138.55" width="3.7" height="3.7" fill="#5f8fbd" stroke="#4f82b3" stroke-width="0.7"/>
<rect x="116.65" y="139.35" width="3.7" height="3.7" fill="#5f8fbd" stroke="#4f82b3" stroke-width="0.7"/>
<rect x="107.55" y="145.85" width="3.7" height="3.7" fill="#5f8fbd" stroke="#4f82b3" stroke-width="0.7"/>
<path d="M144.6 91.5 L147.1 95.8 L142.1 95.8Z" fill="#5fba6d"/>
<path d="M138.3 107.4 L140.8 111.7 L135.8 111.7Z" fill="#5fba6d"/>
<path d="M144.6 107.4 L147.1 111.7 L142.1 111.7Z" fill="#5fba6d"/>
<path d="M150.7 107.4 L153.2 111.7 L148.2 111.7Z" fill="#5fba6d"/>
<path d="M147.4 122.1 L149.9 126.39999999999999 L144.9 126.39999999999999Z" fill="#5fba6d"/>
<path d="M141.5 124.9 L144.0 129.20000000000002 L139.0 129.20000000000002Z" fill="#5fba6d"/>
<path d="M147.4 131.2 L149.9 135.5 L144.9 135.5Z" fill="#5fba6d"/>
<path d="M153.8 131.2 L156.3 135.5 L151.3 135.5Z" fill="#5fba6d"/>
<path d="M134.8 135.0 L137.3 139.3 L132.3 139.3Z" fill="#5fba6d"/>
<path d="M141.1 135.4 L143.6 139.70000000000002 L138.6 139.70000000000002Z" fill="#5fba6d"/>
<path d="M153.8 137.1 L156.3 141.4 L151.3 141.4Z" fill="#5fba6d"/>
<path d="M134.8 140.6 L137.3 144.9 L132.3 144.9Z" fill="#5fba6d"/>
<path d="M147.4 139.2 L149.9 143.5 L144.9 143.5Z" fill="#5fba6d"/>
<path d="M179.7 106.1 L182.2 101.8 L177.2 101.8Z" fill="#8b5ca6"/>
<path d="M174.1 116.2 L176.6 111.9 L171.6 111.9Z" fill="#8b5ca6"/>
<path d="M181.1 116.2 L183.6 111.9 L178.6 111.9Z" fill="#8b5ca6"/>
<path d="M177.6 120.4 L180.1 116.10000000000001 L175.1 116.10000000000001Z" fill="#8b5ca6"/>
<path d="M185.3 118.7 L187.8 114.4 L182.8 114.4Z" fill="#8b5ca6"/>
<path d="M181.1 122.5 L183.6 118.2 L178.6 118.2Z" fill="#8b5ca6"/>
<path d="M185.3 123.9 L187.8 119.60000000000001 L182.8 119.60000000000001Z" fill="#8b5ca6"/>
<path d="M181.8 127.1 L184.3 122.8 L179.3 122.8Z" fill="#8b5ca6"/>
<path d="M169.9 128.8 L172.4 124.5 L167.4 124.5Z" fill="#8b5ca6"/>
<path d="M174.1 129.9 L176.6 125.60000000000001 L171.6 125.60000000000001Z" fill="#8b5ca6"/>
<path d="M189.5 130.2 L192.0 125.9 L187.0 125.9Z" fill="#8b5ca6"/>
<path d="M177.6 132.3 L180.1 128.0 L175.1 128.0Z" fill="#8b5ca6"/>
<path d="M181.8 133.0 L184.3 128.7 L179.3 128.7Z" fill="#8b5ca6"/>
<path d="M185.3 137.2 L187.8 132.89999999999998 L182.8 132.89999999999998Z" fill="#8b5ca6"/>
<path d="M169.9 141.4 L172.4 137.1 L167.4 137.1Z" fill="#8b5ca6"/>
<path d="M177.6 142.5 L180.1 138.2 L175.1 138.2Z" fill="#8b5ca6"/>
<path d="M181.1 139.3 L183.6 135.0 L178.6 135.0Z" fill="#8b5ca6"/>
<path d="M185.3 142.1 L187.8 137.79999999999998 L182.8 137.79999999999998Z" fill="#8b5ca6"/>
<path d="M189.5 141.4 L192.0 137.1 L187.0 137.1Z" fill="#8b5ca6"/>
<path d="M181.8 145.6 L184.3 141.29999999999998 L179.3 141.29999999999998Z" fill="#8b5ca6"/>
<path d="M177.6 149.5 L180.1 145.2 L175.1 145.2Z" fill="#8b5ca6"/>
<path d="M205.7 99.4 L208.2 101.9 L205.7 104.4 L203.2 101.9Z" fill="#f6a84c"/>
<path d="M215.2 99.8 L217.7 102.3 L215.2 104.8 L212.7 102.3Z" fill="#f6a84c"/>
<path d="M224.8 97.3 L227.3 99.8 L224.8 102.3 L222.3 99.8Z" fill="#f6a84c"/>
<path d="M215.2 106.0 L217.7 108.5 L215.2 111.0 L212.7 108.5Z" fill="#f6a84c"/>
<path d="M205.7 109.5 L208.2 112 L205.7 114.5 L203.2 112Z" fill="#f6a84c"/>
<path d="M224.8 109.2 L227.3 111.7 L224.8 114.2 L222.3 111.7Z" fill="#f6a84c"/>
<path d="M215.2 113.2 L217.7 115.7 L215.2 118.2 L212.7 115.7Z" fill="#f6a84c"/>
<path d="M205.7 118.1 L208.2 120.6 L205.7 123.1 L203.2 120.6Z" fill="#f6a84c"/>
<path d="M205.7 124.2 L208.2 126.7 L205.7 129.2 L203.2 126.7Z" fill="#f6a84c"/>
<path d="M224.8 124.2 L227.3 126.7 L224.8 129.2 L222.3 126.7Z" fill="#f6a84c"/>
<path d="M205.7 129.6 L208.2 132.1 L205.7 134.6 L203.2 132.1Z" fill="#f6a84c"/>
<path d="M224.8 130.3 L227.3 132.8 L224.8 135.3 L222.3 132.8Z" fill="#f6a84c"/>
<path d="M215.2 134.5 L217.7 137 L215.2 139.5 L212.7 137Z" fill="#f6a84c"/>
<path d="M215.2 140.5 L217.7 143 L215.2 145.5 L212.7 143Z" fill="#f6a84c"/>
<path d="M205.7 144.3 L208.2 146.8 L205.7 149.3 L203.2 146.8Z" fill="#f6a84c"/>
<path d="M224.8 143.3 L227.3 145.8 L224.8 148.3 L222.3 145.8Z" fill="#f6a84c"/>
<line x1="62.00" y1="106.80" x2="85.70" y2="106.80" stroke="#d9546b" stroke-width="1.2"/>
<line x1="73.80" y1="102.10" x2="73.80" y2="111.80" stroke="#d9546b" stroke-width="1.2"/>
<line x1="68.00" y1="102.10" x2="79.60" y2="102.10" stroke="#d9546b" stroke-width="1.2"/>
<line x1="68.00" y1="111.80" x2="79.60" y2="111.80" stroke="#d9546b" stroke-width="1.2"/>
<line x1="97.10" y1="120.20" x2="121.10" y2="120.20" stroke="#3f73a6" stroke-width="1.2"/>
<line x1="109.40" y1="113.50" x2="109.40" y2="126.70" stroke="#3f73a6" stroke-width="1.2"/>
<line x1="103.50" y1="113.50" x2="115.30" y2="113.50" stroke="#3f73a6" stroke-width="1.2"/>
<line x1="103.50" y1="126.70" x2="115.30" y2="126.70" stroke="#3f73a6" stroke-width="1.2"/>
<line x1="133.10" y1="126.00" x2="156.60" y2="126.00" stroke="#5fba6d" stroke-width="1.2"/>
<line x1="144.60" y1="121.80" x2="144.60" y2="130.20" stroke="#5fba6d" stroke-width="1.2"/>
<line x1="139.00" y1="121.80" x2="150.70" y2="121.80" stroke="#5fba6d" stroke-width="1.2"/>
<line x1="139.00" y1="130.20" x2="150.70" y2="130.20" stroke="#5fba6d" stroke-width="1.2"/>
<line x1="168.50" y1="128.10" x2="191.60" y2="128.10" stroke="#8b5ca6" stroke-width="1.2"/>
<line x1="179.70" y1="125.60" x2="179.70" y2="130.80" stroke="#8b5ca6" stroke-width="1.2"/>
<line x1="174.50" y1="125.60" x2="185.00" y2="125.60" stroke="#8b5ca6" stroke-width="1.2"/>
<line x1="174.50" y1="130.80" x2="185.00" y2="130.80" stroke="#8b5ca6" stroke-width="1.2"/>
<line x1="203.30" y1="122.70" x2="227.20" y2="122.70" stroke="#f6a84c" stroke-width="1.2"/>
<line x1="215.20" y1="119.20" x2="215.20" y2="126.70" stroke="#f6a84c" stroke-width="1.2"/>
<line x1="209.40" y1="119.20" x2="220.90" y2="119.20" stroke="#f6a84c" stroke-width="1.2"/>
<line x1="209.40" y1="126.70" x2="220.90" y2="126.70" stroke="#f6a84c" stroke-width="1.2"/>
<line x1="56.30" y1="419.00" x2="56.30" y2="536.50" stroke="#262626" stroke-width="1.2"/>
<line x1="55.70" y1="536.20" x2="173.80" y2="536.20" stroke="#262626" stroke-width="1.3"/>
<line x1="53.20" y1="536.00" x2="56.20" y2="536.00" stroke="#262626" stroke-width="1.0"/>
<text x="50.50" y="539.00" font-size="8.2" text-anchor="end" fill="#333" textLength="4.05" lengthAdjust="spacingAndGlyphs" >0</text>
<line x1="53.20" y1="497.00" x2="56.20" y2="497.00" stroke="#262626" stroke-width="1.0"/>
<text x="50.50" y="500.00" font-size="8.2" text-anchor="end" fill="#333" textLength="8.30" lengthAdjust="spacingAndGlyphs" >50</text>
<line x1="53.20" y1="458.50" x2="56.20" y2="458.50" stroke="#262626" stroke-width="1.0"/>
<text x="50.50" y="461.50" font-size="8.2" text-anchor="end" fill="#333" textLength="12.55" lengthAdjust="spacingAndGlyphs" >100</text>
<line x1="53.20" y1="419.50" x2="56.20" y2="419.50" stroke="#262626" stroke-width="1.0"/>
<text x="50.50" y="422.50" font-size="8.2" text-anchor="end" fill="#333" textLength="12.55" lengthAdjust="spacingAndGlyphs" >150</text>
<line x1="56.40" y1="536.00" x2="56.40" y2="539.00" stroke="#262626" stroke-width="1.0"/>
<text x="56.40" y="548.40" font-size="8.2" text-anchor="middle" fill="#333" textLength="3.95" lengthAdjust="spacingAndGlyphs" >0</text>
<line x1="85.60" y1="536.00" x2="85.60" y2="539.00" stroke="#262626" stroke-width="1.0"/>
<text x="85.60" y="548.40" font-size="8.2" text-anchor="middle" fill="#333" textLength="8.10" lengthAdjust="spacingAndGlyphs" >25</text>
<line x1="114.80" y1="536.00" x2="114.80" y2="539.00" stroke="#262626" stroke-width="1.0"/>
<text x="114.80" y="548.40" font-size="8.2" text-anchor="middle" fill="#333" textLength="8.10" lengthAdjust="spacingAndGlyphs" >50</text>
<line x1="144.10" y1="536.00" x2="144.10" y2="539.00" stroke="#262626" stroke-width="1.0"/>
<text x="144.10" y="548.40" font-size="8.2" text-anchor="middle" fill="#333" textLength="8.10" lengthAdjust="spacingAndGlyphs" >75</text>
<line x1="173.30" y1="536.00" x2="173.30" y2="539.00" stroke="#262626" stroke-width="1.0"/>
<text x="173.30" y="548.40" font-size="8.2" text-anchor="middle" fill="#333" textLength="12.25" lengthAdjust="spacingAndGlyphs" >100</text>
<text x="115.00" y="560.60" font-size="10.0" text-anchor="middle" fill="#333" textLength="75.00" lengthAdjust="spacingAndGlyphs" >AA concentration (µM)</text>
<text transform="translate(30.00,477.85) rotate(-90)" font-size="10.0" text-anchor="middle" fill="#2b2b2b" textLength="65.30" lengthAdjust="spacingAndGlyphs">% Proliferating cells</text>
<polyline points="56.3,458.5 85.6,499.6 114.8,524.7 173.3,527.0" fill="none" stroke="#3cb449" stroke-width="1.5"/>
<polyline points="56.3,458.5 85.6,494.1 114.8,510.6 173.3,529.3" fill="none" stroke="#13538f" stroke-width="1.5"/>
<polyline points="56.3,458.5 85.6,431.9 114.8,456.4 173.3,498.2" fill="none" stroke="#c8202f" stroke-width="1.5"/>
<path d="M56.3 460.9 L58.9 456.5 L53.699999999999996 456.5Z" fill="#3cb449"/>
<path d="M85.6 502.0 L88.19999999999999 497.6 L83.0 497.6Z" fill="#3cb449"/>
<path d="M114.8 527.1 L117.39999999999999 522.7 L112.2 522.7Z" fill="#3cb449"/>
<path d="M173.3 529.4 L175.9 525.0 L170.70000000000002 525.0Z" fill="#3cb449"/>
<path d="M56.3 455.8 L59.0 458.5 L56.3 461.2 L53.599999999999994 458.5Z" fill="#13538f"/>
<path d="M85.6 491.40000000000003 L88.3 494.1 L85.6 496.8 L82.89999999999999 494.1Z" fill="#13538f"/>
<path d="M114.8 507.90000000000003 L117.5 510.6 L114.8 513.3000000000001 L112.1 510.6Z" fill="#13538f"/>
<path d="M173.3 526.5999999999999 L176.0 529.3 L173.3 532.0 L170.60000000000002 529.3Z" fill="#13538f"/>
<circle cx="56.3" cy="458.5" r="2.3" fill="#c8202f"/>
<circle cx="85.6" cy="431.9" r="2.3" fill="#c8202f"/>
<circle cx="114.8" cy="456.4" r="2.3" fill="#c8202f"/>
<circle cx="173.3" cy="498.2" r="2.3" fill="#c8202f"/>
<line x1="65.50" y1="413.30" x2="77.50" y2="413.30" stroke="#c8202f" stroke-width="1.5"/>
<circle cx="71.6" cy="413.3" r="2.2" fill="#c8202f"/>
<text x="80.30" y="416.00" font-size="7.8" text-anchor="start" fill="#333" textLength="17.20" lengthAdjust="spacingAndGlyphs" >U266</text>
<line x1="103.20" y1="413.30" x2="115.70" y2="413.30" stroke="#13538f" stroke-width="1.5"/>
<path d="M109.5 410.7 L112.1 413.3 L109.5 415.90000000000003 L106.9 413.3Z" fill="#13538f"/>
<text x="118.20" y="416.00" font-size="7.8" text-anchor="start" fill="#333" textLength="23.80" lengthAdjust="spacingAndGlyphs" >MM.1S</text>
<line x1="148.00" y1="413.30" x2="160.70" y2="413.30" stroke="#3cb449" stroke-width="1.5"/>
<path d="M154.5 415.7 L157.1 411.3 L151.9 411.3Z" fill="#3cb449"/>
<text x="163.00" y="416.00" font-size="7.8" text-anchor="start" fill="#333" textLength="17.50" lengthAdjust="spacingAndGlyphs" >H929</text>
<rect x="268.7" y="431.2" width="95.90000000000003" height="95.40000000000003" fill="none" stroke="#3a3a3a" stroke-width="1.1"/>
<text x="303.00" y="425.90" font-size="10.3" text-anchor="start" fill="#222" textLength="28.30" lengthAdjust="spacingAndGlyphs" >DMSO</text>
<rect x="303" y="447" width="1" height="1" fill="#646bb5"/>
<rect x="312" y="448" width="1" height="1" fill="#6c72b8"/>
<rect x="301" y="449" width="1" height="1" fill="#2a389d"/>
<rect x="312" y="449" width="1" height="1" fill="#888dc6"/>
<rect x="320" y="449" width="1" height="1" fill="#3f48a3"/>
<rect x="284" y="450" width="1" height="1" fill="#5e6fbc"/>
<rect x="285" y="450" width="1" height="1" fill="#5e6eba"/>
<rect x="288" y="450" width="1" height="1" fill="#3747a6"/>
<rect x="296" y="450" width="1" height="1" fill="#8c94ca"/>
<rect x="304" y="450" width="1" height="1" fill="#7c84c2"/>
<rect x="284" y="451" width="1" height="1" fill="#2c3fa3"/>
<rect x="289" y="451" width="1" height="1" fill="#6c7cc1"/>
<rect x="306" y="451" width="1" height="1" fill="#263097"/>
<rect x="315" y="451" width="1" height="1" fill="#5d6bb8"/>
<rect x="317" y="451" width="1" height="1" fill="#8d96cc"/>
<rect x="283" y="452" width="1" height="1" fill="#939dd0"/>
<rect x="287" y="452" width="1" height="1" fill="#8591cb"/>
<rect x="288" y="452" width="1" height="1" fill="#95a0d2"/>
<rect x="294" y="452" width="1" height="1" fill="#314aab"/>
<rect x="295" y="452" width="1" height="1" fill="#3d46a3"/>
<rect x="308" y="452" width="1" height="1" fill="#5a6bb9"/>
<rect x="320" y="452" width="1" height="1" fill="#4853ab"/>
<rect x="324" y="452" width="1" height="1" fill="#515aad"/>
<rect x="328" y="452" width="1" height="1" fill="#6970b7"/>
<rect x="282" y="453" width="1" height="1" fill="#9099cd"/>
<rect x="286" y="453" width="1" height="1" fill="#95a4d6"/>
<rect x="287" y="453" width="1" height="1" fill="#9daedc"/>
<rect x="289" y="453" width="1" height="1" fill="#3b58b5"/>
<rect x="291" y="453" width="1" height="1" fill="#9aa9d8"/>
<rect x="295" y="453" width="1" height="1" fill="#6b7fc6"/>
<rect x="301" y="453" width="1" height="1" fill="#3e51ad"/>
<rect x="302" y="453" width="1" height="1" fill="#6a7bc2"/>
<rect x="307" y="453" width="1" height="1" fill="#2a369b"/>
<rect x="312" y="453" width="1" height="1" fill="#9ba4d4"/>
<rect x="324" y="453" width="1" height="1" fill="#8389c4"/>
<rect x="283" y="454" width="1" height="1" fill="#3748a7"/>
<rect x="287" y="454" width="1" height="1" fill="#8295d0"/>
<rect x="288" y="454" width="1" height="1" fill="#305cbd"/>
<rect x="289" y="454" width="1" height="1" fill="#2f54b7"/>
<rect x="290" y="454" width="1" height="1" fill="#506fc2"/>
<rect x="292" y="454" width="1" height="1" fill="#9caddc"/>
<rect x="294" y="454" width="1" height="1" fill="#9dabd9"/>
<rect x="295" y="454" width="1" height="1" fill="#2f47aa"/>
<rect x="297" y="454" width="1" height="1" fill="#2a45aa"/>
<rect x="298" y="454" width="1" height="1" fill="#5563b3"/>
<rect x="304" y="454" width="1" height="1" fill="#384fad"/>
<rect x="307" y="454" width="1" height="1" fill="#8c91c8"/>
<rect x="314" y="454" width="1" height="1" fill="#969ccd"/>
<rect x="315" y="454" width="1" height="1" fill="#5364b6"/>
<rect x="320" y="454" width="1" height="1" fill="#616bb6"/>
<rect x="283" y="455" width="1" height="1" fill="#6d7fc5"/>
<rect x="286" y="455" width="1" height="1" fill="#738fd2"/>
<rect x="288" y="455" width="1" height="1" fill="#6996d5"/>
<rect x="289" y="455" width="1" height="1" fill="#7e99d6"/>
<rect x="290" y="455" width="1" height="1" fill="#4c6cc1"/>
<rect x="291" y="455" width="1" height="1" fill="#688cd3"/>
<rect x="292" y="455" width="1" height="1" fill="#2b52b7"/>
<rect x="295" y="455" width="1" height="1" fill="#6d84c9"/>
<rect x="296" y="455" width="1" height="1" fill="#6f80c4"/>
<rect x="297" y="455" width="1" height="1" fill="#2f4fb2"/>
<rect x="302" y="455" width="1" height="1" fill="#5f76c2"/>
<rect x="303" y="455" width="1" height="1" fill="#516cbe"/>
<rect x="306" y="455" width="1" height="1" fill="#7e8fcc"/>
<rect x="312" y="455" width="1" height="1" fill="#2a3399"/>
<rect x="316" y="455" width="1" height="1" fill="#98a1d2"/>
<rect x="318" y="455" width="1" height="1" fill="#5a62b0"/>
<rect x="319" y="455" width="1" height="1" fill="#4a58ae"/>
<rect x="328" y="455" width="1" height="1" fill="#4851a8"/>
<rect x="330" y="455" width="1" height="1" fill="#6b71b8"/>
<rect x="284" y="456" width="1" height="1" fill="#546fc0"/>
<rect x="285" y="456" width="1" height="1" fill="#3063c3"/>
<rect x="286" y="456" width="1" height="1" fill="#83a6dc"/>
<rect x="288" y="456" width="1" height="1" fill="#487fcc"/>
<rect x="289" y="456" width="1" height="1" fill="#3486cc"/>
<rect x="292" y="456" width="1" height="1" fill="#4068c2"/>
<rect x="297" y="456" width="1" height="1" fill="#7b90ce"/>
<rect x="298" y="456" width="1" height="1" fill="#4c60b5"/>
<rect x="302" y="456" width="1" height="1" fill="#8a9bd3"/>
<rect x="303" y="456" width="1" height="1" fill="#8d9fd5"/>
<rect x="305" y="456" width="1" height="1" fill="#4e63b7"/>
<rect x="307" y="456" width="1" height="1" fill="#909fd3"/>
<rect x="311" y="456" width="1" height="1" fill="#3f4faa"/>
<rect x="320" y="456" width="1" height="1" fill="#636ab4"/>
<rect x="283" y="457" width="1" height="1" fill="#8798d0"/>
<rect x="285" y="457" width="1" height="1" fill="#3485cc"/>
<rect x="286" y="457" width="1" height="1" fill="#327ac9"/>
<rect x="287" y="457" width="1" height="1" fill="#3690cf"/>
<rect x="288" y="457" width="1" height="1" fill="#3cafcd"/>
<rect x="289" y="457" width="1" height="1" fill="#3aa8d5"/>
<rect x="291" y="457" width="1" height="1" fill="#389dd2"/>
<rect x="292" y="457" width="1" height="1" fill="#327ac9"/>
<rect x="293" y="457" width="1" height="1" fill="#4f7dcd"/>
<rect x="294" y="457" width="1" height="1" fill="#3381cb"/>
<rect x="295" y="457" width="1" height="1" fill="#547acb"/>
<rect x="298" y="457" width="1" height="1" fill="#5a75c3"/>
<rect x="301" y="457" width="1" height="1" fill="#95a7d9"/>
<rect x="302" y="457" width="1" height="1" fill="#294bb1"/>
<rect x="303" y="457" width="1" height="1" fill="#92ace0"/>
<rect x="304" y="457" width="1" height="1" fill="#5e84d0"/>
<rect x="305" y="457" width="1" height="1" fill="#97addf"/>
<rect x="306" y="457" width="1" height="1" fill="#7f90cc"/>
<rect x="308" y="457" width="1" height="1" fill="#778ccd"/>
<rect x="309" y="457" width="1" height="1" fill="#485eb4"/>
<rect x="311" y="457" width="1" height="1" fill="#4050ab"/>
<rect x="312" y="457" width="1" height="1" fill="#6a73ba"/>
<rect x="316" y="457" width="1" height="1" fill="#858ec8"/>
<rect x="317" y="457" width="1" height="1" fill="#9095ca"/>
<rect x="322" y="457" width="1" height="1" fill="#939dd0"/>
<rect x="335" y="457" width="1" height="1" fill="#909bd0"/>
<rect x="341" y="457" width="1" height="1" fill="#243199"/>
<rect x="282" y="458" width="1" height="1" fill="#3d5eba"/>
<rect x="283" y="458" width="1" height="1" fill="#7790d1"/>
<rect x="284" y="458" width="1" height="1" fill="#5f92d3"/>
<rect x="285" y="458" width="1" height="1" fill="#3baed6"/>
<rect x="286" y="458" width="1" height="1" fill="#3db0c2"/>
<rect x="287" y="458" width="1" height="1" fill="#3eb1b9"/>
<rect x="288" y="458" width="1" height="1" fill="#3eb1b2"/>
<rect x="289" y="458" width="1" height="1" fill="#43b67c"/>
<rect x="291" y="458" width="1" height="1" fill="#3db0c6"/>
<rect x="292" y="458" width="1" height="1" fill="#3db0c0"/>
<rect x="293" y="458" width="1" height="1" fill="#3795d0"/>
<rect x="294" y="458" width="1" height="1" fill="#327cca"/>
<rect x="295" y="458" width="1" height="1" fill="#327cca"/>
<rect x="297" y="458" width="1" height="1" fill="#4072c9"/>
<rect x="299" y="458" width="1" height="1" fill="#96adde"/>
<rect x="301" y="458" width="1" height="1" fill="#8ba6dd"/>
<rect x="302" y="458" width="1" height="1" fill="#728acd"/>
<rect x="303" y="458" width="1" height="1" fill="#336bc6"/>
<rect x="304" y="458" width="1" height="1" fill="#496bc1"/>
<rect x="306" y="458" width="1" height="1" fill="#5b78c6"/>
<rect x="307" y="458" width="1" height="1" fill="#8497d2"/>
<rect x="309" y="458" width="1" height="1" fill="#2b3ea3"/>
<rect x="313" y="458" width="1" height="1" fill="#3342a3"/>
<rect x="316" y="458" width="1" height="1" fill="#999fd0"/>
<rect x="321" y="458" width="1" height="1" fill="#3048aa"/>
<rect x="329" y="458" width="1" height="1" fill="#4953a9"/>
<rect x="334" y="458" width="1" height="1" fill="#4d55aa"/>
<rect x="335" y="458" width="1" height="1" fill="#6a76bc"/>
<rect x="337" y="458" width="1" height="1" fill="#3a43a1"/>
<rect x="283" y="459" width="1" height="1" fill="#3a66c3"/>
<rect x="284" y="459" width="1" height="1" fill="#368fcf"/>
<rect x="286" y="459" width="1" height="1" fill="#43b679"/>
<rect x="287" y="459" width="1" height="1" fill="#44b76d"/>
<rect x="288" y="459" width="1" height="1" fill="#43b675"/>
<rect x="289" y="459" width="1" height="1" fill="#44b76b"/>
<rect x="290" y="459" width="1" height="1" fill="#44b769"/>
<rect x="291" y="459" width="1" height="1" fill="#44b76e"/>
<rect x="292" y="459" width="1" height="1" fill="#43b67c"/>
<rect x="293" y="459" width="1" height="1" fill="#3db0c4"/>
<rect x="295" y="459" width="1" height="1" fill="#39a1d3"/>
<rect x="296" y="459" width="1" height="1" fill="#327eca"/>
<rect x="300" y="459" width="1" height="1" fill="#5678c8"/>
<rect x="304" y="459" width="1" height="1" fill="#7d9ad7"/>
<rect x="310" y="459" width="1" height="1" fill="#7a8ccc"/>
<rect x="312" y="459" width="1" height="1" fill="#445cb5"/>
<rect x="315" y="459" width="1" height="1" fill="#7989c9"/>
<rect x="316" y="459" width="1" height="1" fill="#5764b3"/>
<rect x="317" y="459" width="1" height="1" fill="#8e9ad0"/>
<rect x="319" y="459" width="1" height="1" fill="#546cbd"/>
<rect x="321" y="459" width="1" height="1" fill="#8494ce"/>
<rect x="325" y="459" width="1" height="1" fill="#5b63b1"/>
<rect x="326" y="459" width="1" height="1" fill="#858ac4"/>
<rect x="336" y="459" width="1" height="1" fill="#8e97cc"/>
<rect x="282" y="460" width="1" height="1" fill="#7996d6"/>
<rect x="283" y="460" width="1" height="1" fill="#337fcb"/>
<rect x="284" y="460" width="1" height="1" fill="#3aa7d5"/>
<rect x="285" y="460" width="1" height="1" fill="#3db0c0"/>
<rect x="286" y="460" width="1" height="1" fill="#4ebb56"/>
<rect x="287" y="460" width="1" height="1" fill="#4ab958"/>
<rect x="288" y="460" width="1" height="1" fill="#6bc14b"/>
<rect x="289" y="460" width="1" height="1" fill="#a0ce37"/>
<rect x="290" y="460" width="1" height="1" fill="#5abd52"/>
<rect x="291" y="460" width="1" height="1" fill="#46b959"/>
<rect x="293" y="460" width="1" height="1" fill="#3fb2a8"/>
<rect x="294" y="460" width="1" height="1" fill="#41b48d"/>
<rect x="295" y="460" width="1" height="1" fill="#3796d0"/>
<rect x="296" y="460" width="1" height="1" fill="#8fb2e0"/>
<rect x="297" y="460" width="1" height="1" fill="#8ea9de"/>
<rect x="298" y="460" width="1" height="1" fill="#8eafe0"/>
<rect x="301" y="460" width="1" height="1" fill="#719fd9"/>
<rect x="303" y="460" width="1" height="1" fill="#3370c7"/>
<rect x="304" y="460" width="1" height="1" fill="#6993d5"/>
<rect x="306" y="460" width="1" height="1" fill="#3866c5"/>
<rect x="307" y="460" width="1" height="1" fill="#98afe0"/>
<rect x="308" y="460" width="1" height="1" fill="#4e69bd"/>
<rect x="309" y="460" width="1" height="1" fill="#8ba0d7"/>
<rect x="310" y="460" width="1" height="1" fill="#3d59b5"/>
<rect x="311" y="460" width="1" height="1" fill="#7084c7"/>
<rect x="312" y="460" width="1" height="1" fill="#5774c4"/>
<rect x="313" y="460" width="1" height="1" fill="#566cbc"/>
<rect x="314" y="460" width="1" height="1" fill="#586cbc"/>
<rect x="317" y="460" width="1" height="1" fill="#606eb9"/>
<rect x="318" y="460" width="1" height="1" fill="#5973c2"/>
<rect x="321" y="460" width="1" height="1" fill="#3a52b0"/>
<rect x="322" y="460" width="1" height="1" fill="#808ecb"/>
<rect x="327" y="460" width="1" height="1" fill="#626fb9"/>
<rect x="330" y="460" width="1" height="1" fill="#7078bc"/>
<rect x="336" y="460" width="1" height="1" fill="#364aa9"/>
<rect x="341" y="460" width="1" height="1" fill="#7d83c1"/>
<rect x="282" y="461" width="1" height="1" fill="#6990d4"/>
<rect x="283" y="461" width="1" height="1" fill="#327cca"/>
<rect x="285" y="461" width="1" height="1" fill="#45b863"/>
<rect x="286" y="461" width="1" height="1" fill="#50bb55"/>
<rect x="287" y="461" width="1" height="1" fill="#84c742"/>
<rect x="288" y="461" width="1" height="1" fill="#98cc3a"/>
<rect x="289" y="461" width="1" height="1" fill="#b9ce30"/>
<rect x="290" y="461" width="1" height="1" fill="#9fce37"/>
<rect x="291" y="461" width="1" height="1" fill="#81c743"/>
<rect x="292" y="461" width="1" height="1" fill="#85c841"/>
<rect x="293" y="461" width="1" height="1" fill="#72c348"/>
<rect x="294" y="461" width="1" height="1" fill="#41b495"/>
<rect x="296" y="461" width="1" height="1" fill="#3cafd3"/>
<rect x="299" y="461" width="1" height="1" fill="#90addf"/>
<rect x="300" y="461" width="1" height="1" fill="#4c7dcd"/>
<rect x="303" y="461" width="1" height="1" fill="#2d5abc"/>
<rect x="304" y="461" width="1" height="1" fill="#587fce"/>
<rect x="306" y="461" width="1" height="1" fill="#5475c6"/>
<rect x="307" y="461" width="1" height="1" fill="#859dd7"/>
<rect x="308" y="461" width="1" height="1" fill="#9daedc"/>
<rect x="310" y="461" width="1" height="1" fill="#7089cd"/>
<rect x="311" y="461" width="1" height="1" fill="#8b9ed5"/>
<rect x="312" y="461" width="1" height="1" fill="#6b87cd"/>
<rect x="313" y="461" width="1" height="1" fill="#7d90ce"/>
<rect x="315" y="461" width="1" height="1" fill="#5874c3"/>
<rect x="318" y="461" width="1" height="1" fill="#99a8d8"/>
<rect x="319" y="461" width="1" height="1" fill="#4158b2"/>
<rect x="321" y="461" width="1" height="1" fill="#7b86c4"/>
<rect x="325" y="461" width="1" height="1" fill="#97a1d3"/>
<rect x="282" y="462" width="1" height="1" fill="#497ccc"/>
<rect x="283" y="462" width="1" height="1" fill="#3177c9"/>
<rect x="284" y="462" width="1" height="1" fill="#3cafcf"/>
<rect x="285" y="462" width="1" height="1" fill="#43b67d"/>
<rect x="286" y="462" width="1" height="1" fill="#90ca3d"/>
<rect x="287" y="462" width="1" height="1" fill="#c3cb2e"/>
<rect x="288" y="462" width="1" height="1" fill="#dac42b"/>
<rect x="289" y="462" width="1" height="1" fill="#bdcd2f"/>
<rect x="290" y="462" width="1" height="1" fill="#dbc42b"/>
<rect x="291" y="462" width="1" height="1" fill="#afd131"/>
<rect x="292" y="462" width="1" height="1" fill="#99cc3a"/>
<rect x="293" y="462" width="1" height="1" fill="#8ac93f"/>
<rect x="294" y="462" width="1" height="1" fill="#43b677"/>
<rect x="295" y="462" width="1" height="1" fill="#3fb2ab"/>
<rect x="296" y="462" width="1" height="1" fill="#41b498"/>
<rect x="298" y="462" width="1" height="1" fill="#3383cc"/>
<rect x="302" y="462" width="1" height="1" fill="#6f90d4"/>
<rect x="304" y="462" width="1" height="1" fill="#2e68c5"/>
<rect x="305" y="462" width="1" height="1" fill="#5e81cd"/>
<rect x="307" y="462" width="1" height="1" fill="#446dc6"/>
<rect x="308" y="462" width="1" height="1" fill="#9ab0e0"/>
<rect x="310" y="462" width="1" height="1" fill="#6982ca"/>
<rect x="311" y="462" width="1" height="1" fill="#4760b7"/>
<rect x="312" y="462" width="1" height="1" fill="#3658b8"/>
<rect x="314" y="462" width="1" height="1" fill="#94a7d9"/>
<rect x="315" y="462" width="1" height="1" fill="#95a0d2"/>
<rect x="316" y="462" width="1" height="1" fill="#8291cc"/>
<rect x="317" y="462" width="1" height="1" fill="#4a65bb"/>
<rect x="319" y="462" width="1" height="1" fill="#7487c9"/>
<rect x="324" y="462" width="1" height="1" fill="#455bb3"/>
<rect x="325" y="462" width="1" height="1" fill="#98a3d4"/>
<rect x="337" y="462" width="1" height="1" fill="#646fb8"/>
<rect x="282" y="463" width="1" height="1" fill="#6380ca"/>
<rect x="283" y="463" width="1" height="1" fill="#3485cc"/>
<rect x="284" y="463" width="1" height="1" fill="#41b498"/>
<rect x="285" y="463" width="1" height="1" fill="#5cbe51"/>
<rect x="286" y="463" width="1" height="1" fill="#95cb3b"/>
<rect x="287" y="463" width="1" height="1" fill="#a8d034"/>
<rect x="288" y="463" width="1" height="1" fill="#dac42b"/>
<rect x="289" y="463" width="1" height="1" fill="#e3c129"/>
<rect x="290" y="463" width="1" height="1" fill="#c9c92d"/>
<rect x="291" y="463" width="1" height="1" fill="#e6c029"/>
<rect x="292" y="463" width="1" height="1" fill="#c6ca2e"/>
<rect x="293" y="463" width="1" height="1" fill="#83c742"/>
<rect x="294" y="463" width="1" height="1" fill="#98cc3a"/>
<rect x="295" y="463" width="1" height="1" fill="#43b676"/>
<rect x="296" y="463" width="1" height="1" fill="#40b399"/>
<rect x="297" y="463" width="1" height="1" fill="#3fb2a6"/>
<rect x="298" y="463" width="1" height="1" fill="#3aa9d5"/>
<rect x="299" y="463" width="1" height="1" fill="#358ece"/>
<rect x="301" y="463" width="1" height="1" fill="#6495d5"/>
<rect x="302" y="463" width="1" height="1" fill="#406bc6"/>
<rect x="303" y="463" width="1" height="1" fill="#7d97d4"/>
<rect x="305" y="463" width="1" height="1" fill="#6d96d6"/>
<rect x="307" y="463" width="1" height="1" fill="#5681ce"/>
<rect x="308" y="463" width="1" height="1" fill="#5675c5"/>
<rect x="310" y="463" width="1" height="1" fill="#2f5bbd"/>
<rect x="313" y="463" width="1" height="1" fill="#455fb8"/>
<rect x="314" y="463" width="1" height="1" fill="#526ec0"/>
<rect x="319" y="463" width="1" height="1" fill="#5566b7"/>
<rect x="321" y="463" width="1" height="1" fill="#8290cb"/>
<rect x="323" y="463" width="1" height="1" fill="#8a94cb"/>
<rect x="328" y="463" width="1" height="1" fill="#434ca5"/>
<rect x="330" y="463" width="1" height="1" fill="#303a9c"/>
<rect x="282" y="464" width="1" height="1" fill="#81a3db"/>
<rect x="283" y="464" width="1" height="1" fill="#327eca"/>
<rect x="284" y="464" width="1" height="1" fill="#3db0c0"/>
<rect x="285" y="464" width="1" height="1" fill="#52bc55"/>
<rect x="286" y="464" width="1" height="1" fill="#afd131"/>
<rect x="287" y="464" width="1" height="1" fill="#d6c52b"/>
<rect x="288" y="464" width="1" height="1" fill="#e9bf28"/>
<rect x="289" y="464" width="1" height="1" fill="#ecbe28"/>
<rect x="290" y="464" width="1" height="1" fill="#d6c52b"/>
<rect x="291" y="464" width="1" height="1" fill="#dfc32a"/>
<rect x="292" y="464" width="1" height="1" fill="#c4cb2e"/>
<rect x="293" y="464" width="1" height="1" fill="#bfcc2f"/>
<rect x="294" y="464" width="1" height="1" fill="#a0ce37"/>
<rect x="295" y="464" width="1" height="1" fill="#55bc54"/>
<rect x="296" y="464" width="1" height="1" fill="#43b67b"/>
<rect x="297" y="464" width="1" height="1" fill="#42b582"/>
<rect x="298" y="464" width="1" height="1" fill="#3796d0"/>
<rect x="299" y="464" width="1" height="1" fill="#3aa4d4"/>
<rect x="301" y="464" width="1" height="1" fill="#3380cb"/>
<rect x="302" y="464" width="1" height="1" fill="#327ac9"/>
<rect x="303" y="464" width="1" height="1" fill="#6c8cd2"/>
<rect x="306" y="464" width="1" height="1" fill="#7594d5"/>
<rect x="307" y="464" width="1" height="1" fill="#7ca1da"/>
<rect x="315" y="464" width="1" height="1" fill="#8c97ce"/>
<rect x="317" y="464" width="1" height="1" fill="#6d7dc2"/>
<rect x="322" y="464" width="1" height="1" fill="#2741a8"/>
<rect x="325" y="464" width="1" height="1" fill="#7582c4"/>
<rect x="332" y="464" width="1" height="1" fill="#626ab4"/>
<rect x="283" y="465" width="1" height="1" fill="#3691cf"/>
<rect x="284" y="465" width="1" height="1" fill="#3eb1b7"/>
<rect x="285" y="465" width="1" height="1" fill="#65c04e"/>
<rect x="286" y="465" width="1" height="1" fill="#81c743"/>
<rect x="287" y="465" width="1" height="1" fill="#cac92d"/>
<rect x="288" y="465" width="1" height="1" fill="#e9bf28"/>
<rect x="289" y="465" width="1" height="1" fill="#ebbf28"/>
<rect x="290" y="465" width="1" height="1" fill="#edab27"/>
<rect x="291" y="465" width="1" height="1" fill="#e88025"/>
<rect x="292" y="465" width="1" height="1" fill="#eca126"/>
<rect x="293" y="465" width="1" height="1" fill="#bdcd2f"/>
<rect x="294" y="465" width="1" height="1" fill="#c3cb2e"/>
<rect x="296" y="465" width="1" height="1" fill="#59bd52"/>
<rect x="297" y="465" width="1" height="1" fill="#3eb1b9"/>
<rect x="298" y="465" width="1" height="1" fill="#3bacd6"/>
<rect x="299" y="465" width="1" height="1" fill="#3383cc"/>
<rect x="300" y="465" width="1" height="1" fill="#6b8fd4"/>
<rect x="302" y="465" width="1" height="1" fill="#548bd1"/>
<rect x="303" y="465" width="1" height="1" fill="#7ea3db"/>
<rect x="304" y="465" width="1" height="1" fill="#8ea3d8"/>
<rect x="305" y="465" width="1" height="1" fill="#97aedf"/>
<rect x="306" y="465" width="1" height="1" fill="#819ed9"/>
<rect x="309" y="465" width="1" height="1" fill="#8798d1"/>
<rect x="310" y="465" width="1" height="1" fill="#8ea3d9"/>
<rect x="311" y="465" width="1" height="1" fill="#8091cd"/>
<rect x="312" y="465" width="1" height="1" fill="#334dae"/>
<rect x="315" y="465" width="1" height="1" fill="#2d3b9f"/>
<rect x="316" y="465" width="1" height="1" fill="#3746a5"/>
<rect x="318" y="465" width="1" height="1" fill="#7886c5"/>
<rect x="321" y="465" width="1" height="1" fill="#5869b8"/>
<rect x="322" y="465" width="1" height="1" fill="#4a5eb4"/>
<rect x="323" y="465" width="1" height="1" fill="#7f8ac7"/>
<rect x="326" y="465" width="1" height="1" fill="#3844a3"/>
<rect x="282" y="466" width="1" height="1" fill="#81a7dd"/>
<rect x="283" y="466" width="1" height="1" fill="#368fcf"/>
<rect x="284" y="466" width="1" height="1" fill="#40b39d"/>
<rect x="285" y="466" width="1" height="1" fill="#6dc24b"/>
<rect x="287" y="466" width="1" height="1" fill="#d1c72c"/>
<rect x="288" y="466" width="1" height="1" fill="#d1c72c"/>
<rect x="289" y="466" width="1" height="1" fill="#d3c62c"/>
<rect x="290" y="466" width="1" height="1" fill="#e7c029"/>
<rect x="291" y="466" width="1" height="1" fill="#e98a25"/>
<rect x="292" y="466" width="1" height="1" fill="#dac42b"/>
<rect x="293" y="466" width="1" height="1" fill="#d7c52b"/>
<rect x="294" y="466" width="1" height="1" fill="#a7d034"/>
<rect x="295" y="466" width="1" height="1" fill="#74c448"/>
<rect x="296" y="466" width="1" height="1" fill="#44b76b"/>
<rect x="297" y="466" width="1" height="1" fill="#40b39c"/>
<rect x="298" y="466" width="1" height="1" fill="#389bd2"/>
<rect x="299" y="466" width="1" height="1" fill="#3c77ca"/>
<rect x="301" y="466" width="1" height="1" fill="#6483cd"/>
<rect x="302" y="466" width="1" height="1" fill="#2b51b5"/>
<rect x="303" y="466" width="1" height="1" fill="#5a7bca"/>
<rect x="304" y="466" width="1" height="1" fill="#315fc0"/>
<rect x="305" y="466" width="1" height="1" fill="#5877c6"/>
<rect x="306" y="466" width="1" height="1" fill="#9aa8d8"/>
<rect x="307" y="466" width="1" height="1" fill="#3351b2"/>
<rect x="308" y="466" width="1" height="1" fill="#3b5ab7"/>
<rect x="310" y="466" width="1" height="1" fill="#506abc"/>
<rect x="311" y="466" width="1" height="1" fill="#2b3ea3"/>
<rect x="313" y="466" width="1" height="1" fill="#4760b7"/>
<rect x="315" y="466" width="1" height="1" fill="#5e73bf"/>
<rect x="316" y="466" width="1" height="1" fill="#4a63b8"/>
<rect x="324" y="466" width="1" height="1" fill="#434da7"/>
<rect x="328" y="466" width="1" height="1" fill="#707cc0"/>
<rect x="336" y="466" width="1" height="1" fill="#2e379b"/>
<rect x="284" y="467" width="1" height="1" fill="#43b678"/>
<rect x="285" y="467" width="1" height="1" fill="#94cb3b"/>
<rect x="286" y="467" width="1" height="1" fill="#b1d131"/>
<rect x="287" y="467" width="1" height="1" fill="#aad033"/>
<rect x="288" y="467" width="1" height="1" fill="#becd2f"/>
<rect x="289" y="467" width="1" height="1" fill="#cec82d"/>
<rect x="290" y="467" width="1" height="1" fill="#dcc32a"/>
<rect x="291" y="467" width="1" height="1" fill="#d7c52b"/>
<rect x="292" y="467" width="1" height="1" fill="#cfc82d"/>
<rect x="293" y="467" width="1" height="1" fill="#dbc42b"/>
<rect x="294" y="467" width="1" height="1" fill="#cac92d"/>
<rect x="295" y="467" width="1" height="1" fill="#68c14c"/>
<rect x="296" y="467" width="1" height="1" fill="#68c14c"/>
<rect x="297" y="467" width="1" height="1" fill="#3fb2aa"/>
<rect x="299" y="467" width="1" height="1" fill="#358ece"/>
<rect x="301" y="467" width="1" height="1" fill="#9ab7e2"/>
<rect x="304" y="467" width="1" height="1" fill="#4c65ba"/>
<rect x="305" y="467" width="1" height="1" fill="#98acdc"/>
<rect x="312" y="467" width="1" height="1" fill="#4754ab"/>
<rect x="313" y="467" width="1" height="1" fill="#3450b1"/>
<rect x="321" y="467" width="1" height="1" fill="#4c58ae"/>
<rect x="282" y="468" width="1" height="1" fill="#98b3e2"/>
<rect x="283" y="468" width="1" height="1" fill="#3489cd"/>
<rect x="284" y="468" width="1" height="1" fill="#44b771"/>
<rect x="285" y="468" width="1" height="1" fill="#80c643"/>
<rect x="286" y="468" width="1" height="1" fill="#b9ce30"/>
<rect x="287" y="468" width="1" height="1" fill="#bfcc2f"/>
<rect x="289" y="468" width="1" height="1" fill="#ebbf28"/>
<rect x="290" y="468" width="1" height="1" fill="#d4c62c"/>
<rect x="291" y="468" width="1" height="1" fill="#d9c52b"/>
<rect x="292" y="468" width="1" height="1" fill="#c5cb2e"/>
<rect x="293" y="468" width="1" height="1" fill="#cec82d"/>
<rect x="294" y="468" width="1" height="1" fill="#97cc3a"/>
<rect x="295" y="468" width="1" height="1" fill="#51bb55"/>
<rect x="296" y="468" width="1" height="1" fill="#40b39d"/>
<rect x="297" y="468" width="1" height="1" fill="#3eb1b2"/>
<rect x="298" y="468" width="1" height="1" fill="#3795d0"/>
<rect x="299" y="468" width="1" height="1" fill="#327ac9"/>
<rect x="300" y="468" width="1" height="1" fill="#6385ce"/>
<rect x="301" y="468" width="1" height="1" fill="#7c92d0"/>
<rect x="302" y="468" width="1" height="1" fill="#5f75c2"/>
<rect x="304" y="468" width="1" height="1" fill="#7993d3"/>
<rect x="307" y="468" width="1" height="1" fill="#4154ae"/>
<rect x="311" y="468" width="1" height="1" fill="#7386c9"/>
<rect x="316" y="468" width="1" height="1" fill="#8e9bd1"/>
<rect x="318" y="468" width="1" height="1" fill="#9098cc"/>
<rect x="319" y="468" width="1" height="1" fill="#4d5eb3"/>
<rect x="322" y="468" width="1" height="1" fill="#2b389d"/>
<rect x="283" y="469" width="1" height="1" fill="#3691cf"/>
<rect x="284" y="469" width="1" height="1" fill="#44b768"/>
<rect x="285" y="469" width="1" height="1" fill="#45b861"/>
<rect x="286" y="469" width="1" height="1" fill="#93cb3c"/>
<rect x="287" y="469" width="1" height="1" fill="#88c840"/>
<rect x="288" y="469" width="1" height="1" fill="#93cb3c"/>
<rect x="289" y="469" width="1" height="1" fill="#c2cb2e"/>
<rect x="290" y="469" width="1" height="1" fill="#b2d031"/>
<rect x="291" y="469" width="1" height="1" fill="#a4cf35"/>
<rect x="292" y="469" width="1" height="1" fill="#9dcd38"/>
<rect x="293" y="469" width="1" height="1" fill="#a4cf35"/>
<rect x="294" y="469" width="1" height="1" fill="#75c448"/>
<rect x="295" y="469" width="1" height="1" fill="#41b494"/>
<rect x="297" y="469" width="1" height="1" fill="#3692cf"/>
<rect x="298" y="469" width="1" height="1" fill="#3797d1"/>
<rect x="302" y="469" width="1" height="1" fill="#6a7fc7"/>
<rect x="303" y="469" width="1" height="1" fill="#8497d1"/>
<rect x="305" y="469" width="1" height="1" fill="#8597d2"/>
<rect x="306" y="469" width="1" height="1" fill="#3d58b3"/>
<rect x="307" y="469" width="1" height="1" fill="#2e41a5"/>
<rect x="309" y="469" width="1" height="1" fill="#344fb0"/>
<rect x="310" y="469" width="1" height="1" fill="#979ece"/>
<rect x="312" y="469" width="1" height="1" fill="#8f96cc"/>
<rect x="313" y="469" width="1" height="1" fill="#5b64b2"/>
<rect x="319" y="469" width="1" height="1" fill="#878cc5"/>
<rect x="323" y="469" width="1" height="1" fill="#717bbe"/>
<rect x="324" y="469" width="1" height="1" fill="#8c96cc"/>
<rect x="284" y="470" width="1" height="1" fill="#3eb1bd"/>
<rect x="285" y="470" width="1" height="1" fill="#48b959"/>
<rect x="286" y="470" width="1" height="1" fill="#65c04d"/>
<rect x="287" y="470" width="1" height="1" fill="#60bf50"/>
<rect x="288" y="470" width="1" height="1" fill="#a3cf36"/>
<rect x="289" y="470" width="1" height="1" fill="#98cc3a"/>
<rect x="290" y="470" width="1" height="1" fill="#afd131"/>
<rect x="291" y="470" width="1" height="1" fill="#7dc644"/>
<rect x="292" y="470" width="1" height="1" fill="#86c841"/>
<rect x="294" y="470" width="1" height="1" fill="#44b769"/>
<rect x="295" y="470" width="1" height="1" fill="#42b588"/>
<rect x="296" y="470" width="1" height="1" fill="#3795d0"/>
<rect x="298" y="470" width="1" height="1" fill="#648bd2"/>
<rect x="299" y="470" width="1" height="1" fill="#6a84ca"/>
<rect x="302" y="470" width="1" height="1" fill="#5b78c6"/>
<rect x="304" y="470" width="1" height="1" fill="#6f85c9"/>
<rect x="305" y="470" width="1" height="1" fill="#4f61b5"/>
<rect x="306" y="470" width="1" height="1" fill="#506dc0"/>
<rect x="310" y="470" width="1" height="1" fill="#2f40a3"/>
<rect x="313" y="470" width="1" height="1" fill="#3642a1"/>
<rect x="315" y="470" width="1" height="1" fill="#7c8bc9"/>
<rect x="316" y="470" width="1" height="1" fill="#9ba6d5"/>
<rect x="330" y="470" width="1" height="1" fill="#939acc"/>
<rect x="340" y="470" width="1" height="1" fill="#555eae"/>
<rect x="283" y="471" width="1" height="1" fill="#3693d0"/>
<rect x="284" y="471" width="1" height="1" fill="#3eb1b4"/>
<rect x="285" y="471" width="1" height="1" fill="#44b76c"/>
<rect x="286" y="471" width="1" height="1" fill="#44b76d"/>
<rect x="287" y="471" width="1" height="1" fill="#5fbf50"/>
<rect x="288" y="471" width="1" height="1" fill="#4cba57"/>
<rect x="289" y="471" width="1" height="1" fill="#81c743"/>
<rect x="290" y="471" width="1" height="1" fill="#7ec644"/>
<rect x="291" y="471" width="1" height="1" fill="#49b958"/>
<rect x="292" y="471" width="1" height="1" fill="#6bc14b"/>
<rect x="293" y="471" width="1" height="1" fill="#41b496"/>
<rect x="294" y="471" width="1" height="1" fill="#3cafca"/>
<rect x="295" y="471" width="1" height="1" fill="#3db0c1"/>
<rect x="296" y="471" width="1" height="1" fill="#3484cc"/>
<rect x="297" y="471" width="1" height="1" fill="#78a4db"/>
<rect x="298" y="471" width="1" height="1" fill="#8198d3"/>
<rect x="299" y="471" width="1" height="1" fill="#5b78c5"/>
<rect x="300" y="471" width="1" height="1" fill="#7f93d0"/>
<rect x="303" y="471" width="1" height="1" fill="#4966bc"/>
<rect x="305" y="471" width="1" height="1" fill="#4857ad"/>
<rect x="306" y="471" width="1" height="1" fill="#2e43a5"/>
<rect x="311" y="471" width="1" height="1" fill="#7f85c2"/>
<rect x="313" y="471" width="1" height="1" fill="#9aa3d3"/>
<rect x="336" y="471" width="1" height="1" fill="#8e98cd"/>
<rect x="283" y="472" width="1" height="1" fill="#3e6cc7"/>
<rect x="284" y="472" width="1" height="1" fill="#3382cb"/>
<rect x="286" y="472" width="1" height="1" fill="#3eb1b5"/>
<rect x="287" y="472" width="1" height="1" fill="#40b39a"/>
<rect x="289" y="472" width="1" height="1" fill="#42b586"/>
<rect x="290" y="472" width="1" height="1" fill="#41b494"/>
<rect x="291" y="472" width="1" height="1" fill="#44b76c"/>
<rect x="292" y="472" width="1" height="1" fill="#3eb1b4"/>
<rect x="293" y="472" width="1" height="1" fill="#3db0c1"/>
<rect x="295" y="472" width="1" height="1" fill="#39a4d4"/>
<rect x="296" y="472" width="1" height="1" fill="#3485cc"/>
<rect x="299" y="472" width="1" height="1" fill="#4461b9"/>
<rect x="301" y="472" width="1" height="1" fill="#2a4db3"/>
<rect x="302" y="472" width="1" height="1" fill="#6473bd"/>
<rect x="308" y="472" width="1" height="1" fill="#3849a7"/>
<rect x="309" y="472" width="1" height="1" fill="#3b44a1"/>
<rect x="310" y="472" width="1" height="1" fill="#5c6db9"/>
<rect x="318" y="472" width="1" height="1" fill="#838fca"/>
<rect x="321" y="472" width="1" height="1" fill="#293da3"/>
<rect x="282" y="473" width="1" height="1" fill="#2842a8"/>
<rect x="283" y="473" width="1" height="1" fill="#5274c6"/>
<rect x="284" y="473" width="1" height="1" fill="#6a8ad1"/>
<rect x="285" y="473" width="1" height="1" fill="#5388d0"/>
<rect x="288" y="473" width="1" height="1" fill="#389ed2"/>
<rect x="289" y="473" width="1" height="1" fill="#3eb1b7"/>
<rect x="290" y="473" width="1" height="1" fill="#3bacd6"/>
<rect x="291" y="473" width="1" height="1" fill="#39a0d3"/>
<rect x="292" y="473" width="1" height="1" fill="#358acd"/>
<rect x="293" y="473" width="1" height="1" fill="#3691cf"/>
<rect x="294" y="473" width="1" height="1" fill="#358acd"/>
<rect x="295" y="473" width="1" height="1" fill="#3178c9"/>
<rect x="296" y="473" width="1" height="1" fill="#8cb0df"/>
<rect x="299" y="473" width="1" height="1" fill="#374fae"/>
<rect x="301" y="473" width="1" height="1" fill="#8596d1"/>
<rect x="302" y="473" width="1" height="1" fill="#8996ce"/>
<rect x="304" y="473" width="1" height="1" fill="#4759b1"/>
<rect x="308" y="473" width="1" height="1" fill="#252e96"/>
<rect x="284" y="474" width="1" height="1" fill="#94abde"/>
<rect x="285" y="474" width="1" height="1" fill="#327ac9"/>
<rect x="286" y="474" width="1" height="1" fill="#7ba4db"/>
<rect x="287" y="474" width="1" height="1" fill="#3795d0"/>
<rect x="288" y="474" width="1" height="1" fill="#3795d0"/>
<rect x="289" y="474" width="1" height="1" fill="#358cce"/>
<rect x="290" y="474" width="1" height="1" fill="#3382cb"/>
<rect x="292" y="474" width="1" height="1" fill="#327bca"/>
<rect x="293" y="474" width="1" height="1" fill="#416dc8"/>
<rect x="294" y="474" width="1" height="1" fill="#a0bbe5"/>
<rect x="295" y="474" width="1" height="1" fill="#5b7fcc"/>
<rect x="296" y="474" width="1" height="1" fill="#5e7ac6"/>
<rect x="300" y="474" width="1" height="1" fill="#5d74c0"/>
<rect x="301" y="474" width="1" height="1" fill="#3a56b4"/>
<rect x="302" y="474" width="1" height="1" fill="#626fb9"/>
<rect x="306" y="474" width="1" height="1" fill="#8a92c9"/>
<rect x="314" y="474" width="1" height="1" fill="#949dd0"/>
<rect x="315" y="474" width="1" height="1" fill="#26349b"/>
<rect x="283" y="475" width="1" height="1" fill="#697dc5"/>
<rect x="284" y="475" width="1" height="1" fill="#4967bd"/>
<rect x="285" y="475" width="1" height="1" fill="#95acde"/>
<rect x="287" y="475" width="1" height="1" fill="#7892d2"/>
<rect x="290" y="475" width="1" height="1" fill="#678ad2"/>
<rect x="291" y="475" width="1" height="1" fill="#9dbce5"/>
<rect x="294" y="475" width="1" height="1" fill="#4168c2"/>
<rect x="295" y="475" width="1" height="1" fill="#4068c3"/>
<rect x="297" y="475" width="1" height="1" fill="#8997cf"/>
<rect x="299" y="475" width="1" height="1" fill="#4554ad"/>
<rect x="305" y="475" width="1" height="1" fill="#96a2d4"/>
<rect x="306" y="475" width="1" height="1" fill="#525bae"/>
<rect x="284" y="476" width="1" height="1" fill="#354cac"/>
<rect x="289" y="476" width="1" height="1" fill="#9cacdb"/>
<rect x="290" y="476" width="1" height="1" fill="#435fb8"/>
<rect x="292" y="476" width="1" height="1" fill="#314fb0"/>
<rect x="297" y="476" width="1" height="1" fill="#7e8cc9"/>
<rect x="306" y="476" width="1" height="1" fill="#707ec2"/>
<rect x="283" y="477" width="1" height="1" fill="#2741a8"/>
<rect x="285" y="477" width="1" height="1" fill="#98a3d4"/>
<rect x="286" y="477" width="1" height="1" fill="#4557af"/>
<rect x="287" y="477" width="1" height="1" fill="#4762b9"/>
<rect x="289" y="477" width="1" height="1" fill="#2d4db1"/>
<rect x="293" y="477" width="1" height="1" fill="#97a2d3"/>
<rect x="294" y="477" width="1" height="1" fill="#919ace"/>
<rect x="295" y="477" width="1" height="1" fill="#9ba3d2"/>
<rect x="303" y="477" width="1" height="1" fill="#717cbf"/>
<rect x="305" y="477" width="1" height="1" fill="#293399"/>
<rect x="282" y="478" width="1" height="1" fill="#3a4caa"/>
<rect x="283" y="478" width="1" height="1" fill="#868dc6"/>
<rect x="286" y="478" width="1" height="1" fill="#2d4baf"/>
<rect x="289" y="478" width="1" height="1" fill="#677fc7"/>
<rect x="293" y="478" width="1" height="1" fill="#3143a5"/>
<rect x="285" y="479" width="1" height="1" fill="#9aa2d2"/>
<rect x="289" y="479" width="1" height="1" fill="#3342a3"/>
<rect x="295" y="479" width="1" height="1" fill="#323b9d"/>
<rect x="304" y="479" width="1" height="1" fill="#9196ca"/>
<rect x="287" y="480" width="1" height="1" fill="#3a43a1"/>
<rect x="291" y="480" width="1" height="1" fill="#9ca7d6"/>
<rect x="295" y="480" width="1" height="1" fill="#4356b0"/>
<rect x="284" y="481" width="1" height="1" fill="#969acc"/>
<rect x="285" y="481" width="1" height="1" fill="#7880c0"/>
<rect x="290" y="483" width="1" height="1" fill="#252f97"/>
<line x1="308.00" y1="431.20" x2="308.00" y2="526.60" stroke="#6b6b6b" stroke-width="1.6"/>
<line x1="268.70" y1="484.80" x2="364.60" y2="484.80" stroke="#6b6b6b" stroke-width="1.6"/>
<text x="271.20" y="437.80" font-size="7.4" text-anchor="start" fill="#333" >Q1</text>
<text x="271.20" y="446.80" font-size="7.4" text-anchor="start" fill="#333" >90.9</text>
<text x="361.80" y="439.20" font-size="7.4" text-anchor="end" fill="#333" >Q2</text>
<text x="361.80" y="448.20" font-size="7.4" text-anchor="end" fill="#333" >9%</text>
<text x="361.80" y="514.50" font-size="7.4" text-anchor="end" fill="#333" >Q3</text>
<text x="361.80" y="523.70" font-size="7.4" text-anchor="end" fill="#333" >0</text>
<text x="271.20" y="514.30" font-size="7.4" text-anchor="start" fill="#333" >Q4</text>
<text x="271.20" y="523.70" font-size="7.4" text-anchor="start" fill="#333" >0.029</text>
<line x1="264.50" y1="440.50" x2="268.70" y2="440.50" stroke="#333" stroke-width="1.3"/>
<text x="263.70" y="443.30" font-size="8.0" text-anchor="end" fill="#333" >10<tspan font-size="4.6" dy="-2.9">5</tspan></text>
<line x1="264.50" y1="462.50" x2="268.70" y2="462.50" stroke="#333" stroke-width="1.3"/>
<text x="263.70" y="465.30" font-size="8.0" text-anchor="end" fill="#333" >10<tspan font-size="4.6" dy="-2.9">4</tspan></text>
<line x1="264.50" y1="489.20" x2="268.70" y2="489.20" stroke="#333" stroke-width="1.3"/>
<text x="263.70" y="492.00" font-size="8.0" text-anchor="end" fill="#333" >10<tspan font-size="4.6" dy="-2.9">3</tspan></text>
<line x1="264.50" y1="503.40" x2="268.70" y2="503.40" stroke="#333" stroke-width="1.3"/>
<text x="260.70" y="506.30" font-size="8.0" text-anchor="end" fill="#333" textLength="4.20" lengthAdjust="spacingAndGlyphs" >0</text>
<line x1="264.50" y1="520.50" x2="268.70" y2="520.50" stroke="#333" stroke-width="1.3"/>
<text x="263.70" y="523.30" font-size="8.0" text-anchor="end" fill="#333" >−10<tspan font-size="4.6" dy="-2.9">3</tspan></text>
<line x1="266.30" y1="481.16" x2="268.70" y2="481.16" stroke="#444" stroke-width="0.9"/>
<line x1="266.30" y1="476.46" x2="268.70" y2="476.46" stroke="#444" stroke-width="0.9"/>
<line x1="266.30" y1="473.12" x2="268.70" y2="473.12" stroke="#444" stroke-width="0.9"/>
<line x1="266.30" y1="470.54" x2="268.70" y2="470.54" stroke="#444" stroke-width="0.9"/>
<line x1="266.30" y1="468.42" x2="268.70" y2="468.42" stroke="#444" stroke-width="0.9"/>
<line x1="266.30" y1="466.64" x2="268.70" y2="466.64" stroke="#444" stroke-width="0.9"/>
<line x1="266.30" y1="465.09" x2="268.70" y2="465.09" stroke="#444" stroke-width="0.9"/>
<line x1="266.30" y1="463.72" x2="268.70" y2="463.72" stroke="#444" stroke-width="0.9"/>
<line x1="266.30" y1="455.88" x2="268.70" y2="455.88" stroke="#444" stroke-width="0.9"/>
<line x1="266.30" y1="452.00" x2="268.70" y2="452.00" stroke="#444" stroke-width="0.9"/>
<line x1="266.30" y1="449.25" x2="268.70" y2="449.25" stroke="#444" stroke-width="0.9"/>
<line x1="266.30" y1="447.12" x2="268.70" y2="447.12" stroke="#444" stroke-width="0.9"/>
<line x1="266.30" y1="445.38" x2="268.70" y2="445.38" stroke="#444" stroke-width="0.9"/>
<line x1="266.30" y1="443.91" x2="268.70" y2="443.91" stroke="#444" stroke-width="0.9"/>
<line x1="266.30" y1="442.63" x2="268.70" y2="442.63" stroke="#444" stroke-width="0.9"/>
<line x1="266.30" y1="441.51" x2="268.70" y2="441.51" stroke="#444" stroke-width="0.9"/>
<line x1="266.30" y1="433.88" x2="268.70" y2="433.88" stroke="#444" stroke-width="0.9"/>
<line x1="266.30" y1="493.00" x2="268.70" y2="493.00" stroke="#444" stroke-width="0.9"/>
<line x1="266.30" y1="497.00" x2="268.70" y2="497.00" stroke="#444" stroke-width="0.9"/>
<line x1="266.30" y1="500.00" x2="268.70" y2="500.00" stroke="#444" stroke-width="0.9"/>
<line x1="266.30" y1="507.50" x2="268.70" y2="507.50" stroke="#444" stroke-width="0.9"/>
<line x1="266.30" y1="511.00" x2="268.70" y2="511.00" stroke="#444" stroke-width="0.9"/>
<line x1="266.30" y1="515.00" x2="268.70" y2="515.00" stroke="#444" stroke-width="0.9"/>
<line x1="266.30" y1="524.00" x2="268.70" y2="524.00" stroke="#444" stroke-width="0.9"/>
<rect x="264.5" y="502" width="4.2" height="4.6" fill="#222"/>
<line x1="274.70" y1="526.60" x2="274.70" y2="530.10" stroke="#333" stroke-width="1.2"/>
<line x1="292.20" y1="526.60" x2="292.20" y2="530.10" stroke="#333" stroke-width="1.2"/>
<line x1="306.20" y1="526.60" x2="306.20" y2="530.10" stroke="#333" stroke-width="1.2"/>
<line x1="332.20" y1="526.60" x2="332.20" y2="530.10" stroke="#333" stroke-width="1.2"/>
<line x1="360.20" y1="526.60" x2="360.20" y2="530.10" stroke="#333" stroke-width="1.2"/>
<line x1="271.70" y1="526.60" x2="271.70" y2="528.60" stroke="#555" stroke-width="0.9"/>
<line x1="277.70" y1="526.60" x2="277.70" y2="528.60" stroke="#555" stroke-width="0.9"/>
<line x1="280.70" y1="526.60" x2="280.70" y2="528.60" stroke="#555" stroke-width="0.9"/>
<line x1="283.70" y1="526.60" x2="283.70" y2="528.60" stroke="#555" stroke-width="0.9"/>
<line x1="286.20" y1="526.60" x2="286.20" y2="528.60" stroke="#555" stroke-width="0.9"/>
<line x1="288.70" y1="526.60" x2="288.70" y2="528.60" stroke="#555" stroke-width="0.9"/>
<line x1="294.70" y1="526.60" x2="294.70" y2="528.60" stroke="#555" stroke-width="0.9"/>
<line x1="297.20" y1="526.60" x2="297.20" y2="528.60" stroke="#555" stroke-width="0.9"/>
<line x1="299.70" y1="526.60" x2="299.70" y2="528.60" stroke="#555" stroke-width="0.9"/>
<line x1="302.70" y1="526.60" x2="302.70" y2="528.60" stroke="#555" stroke-width="0.9"/>
<line x1="310.70" y1="526.60" x2="310.70" y2="528.60" stroke="#555" stroke-width="0.9"/>
<line x1="315.70" y1="526.60" x2="315.70" y2="528.60" stroke="#555" stroke-width="0.9"/>
<line x1="319.70" y1="526.60" x2="319.70" y2="528.60" stroke="#555" stroke-width="0.9"/>
<line x1="323.20" y1="526.60" x2="323.20" y2="528.60" stroke="#555" stroke-width="0.9"/>
<line x1="326.20" y1="526.60" x2="326.20" y2="528.60" stroke="#555" stroke-width="0.9"/>
<line x1="329.20" y1="526.60" x2="329.20" y2="528.60" stroke="#555" stroke-width="0.9"/>
<line x1="336.70" y1="526.60" x2="336.70" y2="528.60" stroke="#555" stroke-width="0.9"/>
<line x1="341.70" y1="526.60" x2="341.70" y2="528.60" stroke="#555" stroke-width="0.9"/>
<line x1="345.70" y1="526.60" x2="345.70" y2="528.60" stroke="#555" stroke-width="0.9"/>
<line x1="349.20" y1="526.60" x2="349.20" y2="528.60" stroke="#555" stroke-width="0.9"/>
<line x1="352.20" y1="526.60" x2="352.20" y2="528.60" stroke="#555" stroke-width="0.9"/>
<line x1="355.20" y1="526.60" x2="355.20" y2="528.60" stroke="#555" stroke-width="0.9"/>
<line x1="357.70" y1="526.60" x2="357.70" y2="528.60" stroke="#555" stroke-width="0.9"/>
<rect x="289.2" y="526.6" width="4" height="3.8" fill="#222"/>
<text x="291.90" y="539.60" font-size="8.0" text-anchor="middle" fill="#333" textLength="4.20" lengthAdjust="spacingAndGlyphs" >0</text>
<text x="333.70" y="539.60" font-size="8.0" text-anchor="middle" fill="#333" >10<tspan font-size="4.6" dy="-2.9">4</tspan></text>
<rect x="404.2" y="431.5" width="100.40000000000003" height="94.79999999999995" fill="none" stroke="#3a3a3a" stroke-width="1.1"/>
<text x="399.50" y="425.90" font-size="10.3" text-anchor="start" fill="#222" textLength="108.20" lengthAdjust="spacingAndGlyphs" >Arachidonic acid (100uM)</text>
<rect x="471" y="450" width="1" height="1" fill="#646bb5"/>
<rect x="466" y="452" width="1" height="1" fill="#6c72b8"/>
<rect x="463" y="454" width="1" height="1" fill="#2c3fa2"/>
<rect x="465" y="454" width="1" height="1" fill="#888dc6"/>
<rect x="463" y="455" width="1" height="1" fill="#404ea8"/>
<rect x="465" y="455" width="1" height="1" fill="#5e73bf"/>
<rect x="457" y="456" width="1" height="1" fill="#5e71bd"/>
<rect x="459" y="456" width="1" height="1" fill="#374dac"/>
<rect x="460" y="456" width="1" height="1" fill="#8d9ad0"/>
<rect x="463" y="456" width="1" height="1" fill="#7e8dca"/>
<rect x="467" y="456" width="1" height="1" fill="#2c3ea2"/>
<rect x="456" y="457" width="1" height="1" fill="#6d80c6"/>
<rect x="460" y="457" width="1" height="1" fill="#2a45aa"/>
<rect x="462" y="457" width="1" height="1" fill="#617dc8"/>
<rect x="463" y="457" width="1" height="1" fill="#8fa0d6"/>
<rect x="465" y="457" width="1" height="1" fill="#93a0d3"/>
<rect x="455" y="458" width="1" height="1" fill="#8696cf"/>
<rect x="456" y="458" width="1" height="1" fill="#97a8d9"/>
<rect x="458" y="458" width="1" height="1" fill="#396dc7"/>
<rect x="460" y="458" width="1" height="1" fill="#4263bc"/>
<rect x="462" y="458" width="1" height="1" fill="#5d80cc"/>
<rect x="464" y="458" width="1" height="1" fill="#4a60b6"/>
<rect x="453" y="459" width="1" height="1" fill="#556ebf"/>
<rect x="456" y="459" width="1" height="1" fill="#7197d7"/>
<rect x="457" y="459" width="1" height="1" fill="#3487cd"/>
<rect x="458" y="459" width="1" height="1" fill="#39a3d4"/>
<rect x="459" y="459" width="1" height="1" fill="#3693d0"/>
<rect x="460" y="459" width="1" height="1" fill="#358dce"/>
<rect x="461" y="459" width="1" height="1" fill="#a0bce5"/>
<rect x="462" y="459" width="1" height="1" fill="#3d62be"/>
<rect x="463" y="459" width="1" height="1" fill="#9aaada"/>
<rect x="451" y="460" width="1" height="1" fill="#6c88ce"/>
<rect x="452" y="460" width="1" height="1" fill="#446dc5"/>
<rect x="453" y="460" width="1" height="1" fill="#3177c9"/>
<rect x="454" y="460" width="1" height="1" fill="#3488cd"/>
<rect x="455" y="460" width="1" height="1" fill="#3794d0"/>
<rect x="456" y="460" width="1" height="1" fill="#389ed2"/>
<rect x="457" y="460" width="1" height="1" fill="#41b490"/>
<rect x="458" y="460" width="1" height="1" fill="#42b581"/>
<rect x="459" y="460" width="1" height="1" fill="#389dd2"/>
<rect x="460" y="460" width="1" height="1" fill="#39a0d3"/>
<rect x="461" y="460" width="1" height="1" fill="#3d6ac6"/>
<rect x="462" y="460" width="1" height="1" fill="#8294cf"/>
<rect x="451" y="461" width="1" height="1" fill="#327dca"/>
<rect x="452" y="461" width="1" height="1" fill="#76a3da"/>
<rect x="453" y="461" width="1" height="1" fill="#389ed2"/>
<rect x="454" y="461" width="1" height="1" fill="#43b676"/>
<rect x="455" y="461" width="1" height="1" fill="#44b770"/>
<rect x="456" y="461" width="1" height="1" fill="#6cc24b"/>
<rect x="457" y="461" width="1" height="1" fill="#6ec24a"/>
<rect x="458" y="461" width="1" height="1" fill="#43b674"/>
<rect x="459" y="461" width="1" height="1" fill="#42b584"/>
<rect x="460" y="461" width="1" height="1" fill="#3383cc"/>
<rect x="461" y="461" width="1" height="1" fill="#7089cd"/>
<rect x="448" y="462" width="1" height="1" fill="#3c4eab"/>
<rect x="449" y="462" width="1" height="1" fill="#718ccf"/>
<rect x="450" y="462" width="1" height="1" fill="#326cc6"/>
<rect x="451" y="462" width="1" height="1" fill="#3fb2ab"/>
<rect x="452" y="462" width="1" height="1" fill="#42b586"/>
<rect x="453" y="462" width="1" height="1" fill="#94cb3b"/>
<rect x="454" y="462" width="1" height="1" fill="#bace30"/>
<rect x="455" y="462" width="1" height="1" fill="#a3cf36"/>
<rect x="456" y="462" width="1" height="1" fill="#96cc3b"/>
<rect x="457" y="462" width="1" height="1" fill="#6fc24a"/>
<rect x="458" y="462" width="1" height="1" fill="#44b767"/>
<rect x="459" y="462" width="1" height="1" fill="#3db0c9"/>
<rect x="447" y="463" width="1" height="1" fill="#7083c7"/>
<rect x="448" y="463" width="1" height="1" fill="#668ad2"/>
<rect x="450" y="463" width="1" height="1" fill="#3db0c7"/>
<rect x="451" y="463" width="1" height="1" fill="#66c04d"/>
<rect x="452" y="463" width="1" height="1" fill="#9acd39"/>
<rect x="453" y="463" width="1" height="1" fill="#cfc72c"/>
<rect x="454" y="463" width="1" height="1" fill="#ea9226"/>
<rect x="455" y="463" width="1" height="1" fill="#d8c52b"/>
<rect x="456" y="463" width="1" height="1" fill="#abd133"/>
<rect x="457" y="463" width="1" height="1" fill="#43b675"/>
<rect x="458" y="463" width="1" height="1" fill="#3eb1b9"/>
<rect x="460" y="463" width="1" height="1" fill="#2d59bd"/>
<rect x="449" y="464" width="1" height="1" fill="#3cafd4"/>
<rect x="450" y="464" width="1" height="1" fill="#4aba58"/>
<rect x="451" y="464" width="1" height="1" fill="#90ca3d"/>
<rect x="452" y="464" width="1" height="1" fill="#eda927"/>
<rect x="453" y="464" width="1" height="1" fill="#e88025"/>
<rect x="454" y="464" width="1" height="1" fill="#e98b25"/>
<rect x="455" y="464" width="1" height="1" fill="#bfcc2f"/>
<rect x="456" y="464" width="1" height="1" fill="#7cc545"/>
<rect x="457" y="464" width="1" height="1" fill="#41b491"/>
<rect x="458" y="464" width="1" height="1" fill="#3572c7"/>
<rect x="459" y="464" width="1" height="1" fill="#9bb2e1"/>
<rect x="461" y="464" width="1" height="1" fill="#5a66b4"/>
<rect x="442" y="465" width="1" height="1" fill="#4a59af"/>
<rect x="445" y="465" width="1" height="1" fill="#4c61b6"/>
<rect x="446" y="465" width="1" height="1" fill="#6f87cc"/>
<rect x="447" y="465" width="1" height="1" fill="#577fce"/>
<rect x="448" y="465" width="1" height="1" fill="#3cafd6"/>
<rect x="449" y="465" width="1" height="1" fill="#3eb1b4"/>
<rect x="451" y="465" width="1" height="1" fill="#ddc32a"/>
<rect x="452" y="465" width="1" height="1" fill="#e56824"/>
<rect x="453" y="465" width="1" height="1" fill="#eb9a26"/>
<rect x="454" y="465" width="1" height="1" fill="#c9c92d"/>
<rect x="455" y="465" width="1" height="1" fill="#91cb3d"/>
<rect x="456" y="465" width="1" height="1" fill="#3db0c0"/>
<rect x="457" y="465" width="1" height="1" fill="#6193d4"/>
<rect x="444" y="466" width="1" height="1" fill="#3457b8"/>
<rect x="446" y="466" width="1" height="1" fill="#527bcd"/>
<rect x="447" y="466" width="1" height="1" fill="#3babd6"/>
<rect x="448" y="466" width="1" height="1" fill="#40b3a0"/>
<rect x="449" y="466" width="1" height="1" fill="#7cc545"/>
<rect x="450" y="466" width="1" height="1" fill="#94cb3c"/>
<rect x="451" y="466" width="1" height="1" fill="#d5c62c"/>
<rect x="452" y="466" width="1" height="1" fill="#eca526"/>
<rect x="453" y="466" width="1" height="1" fill="#ebbf28"/>
<rect x="454" y="466" width="1" height="1" fill="#7dc644"/>
<rect x="455" y="466" width="1" height="1" fill="#3eb1bd"/>
<rect x="456" y="466" width="1" height="1" fill="#6b96d6"/>
<rect x="458" y="466" width="1" height="1" fill="#8693cc"/>
<rect x="459" y="466" width="1" height="1" fill="#3c55b2"/>
<rect x="437" y="467" width="1" height="1" fill="#848ac4"/>
<rect x="442" y="467" width="1" height="1" fill="#8695cf"/>
<rect x="443" y="467" width="1" height="1" fill="#3753b2"/>
<rect x="444" y="467" width="1" height="1" fill="#879cd5"/>
<rect x="445" y="467" width="1" height="1" fill="#547bcc"/>
<rect x="446" y="467" width="1" height="1" fill="#3486cc"/>
<rect x="447" y="467" width="1" height="1" fill="#3db0c0"/>
<rect x="448" y="467" width="1" height="1" fill="#45b862"/>
<rect x="449" y="467" width="1" height="1" fill="#a3cf36"/>
<rect x="450" y="467" width="1" height="1" fill="#8eca3e"/>
<rect x="451" y="467" width="1" height="1" fill="#98cc3a"/>
<rect x="452" y="467" width="1" height="1" fill="#c9c92d"/>
<rect x="453" y="467" width="1" height="1" fill="#8dca3e"/>
<rect x="454" y="467" width="1" height="1" fill="#43b677"/>
<rect x="455" y="467" width="1" height="1" fill="#327dca"/>
<rect x="456" y="467" width="1" height="1" fill="#98b1e1"/>
<rect x="458" y="467" width="1" height="1" fill="#7d87c4"/>
<rect x="443" y="468" width="1" height="1" fill="#7894d5"/>
<rect x="444" y="468" width="1" height="1" fill="#4d76ca"/>
<rect x="445" y="468" width="1" height="1" fill="#4981ce"/>
<rect x="446" y="468" width="1" height="1" fill="#3589cd"/>
<rect x="447" y="468" width="1" height="1" fill="#42b58b"/>
<rect x="448" y="468" width="1" height="1" fill="#47b959"/>
<rect x="449" y="468" width="1" height="1" fill="#8cc93f"/>
<rect x="450" y="468" width="1" height="1" fill="#48b959"/>
<rect x="451" y="468" width="1" height="1" fill="#75c447"/>
<rect x="452" y="468" width="1" height="1" fill="#45b861"/>
<rect x="453" y="468" width="1" height="1" fill="#40b39a"/>
<rect x="441" y="469" width="1" height="1" fill="#91a0d4"/>
<rect x="442" y="469" width="1" height="1" fill="#2947ac"/>
<rect x="443" y="469" width="1" height="1" fill="#3f66c1"/>
<rect x="444" y="469" width="1" height="1" fill="#7895d5"/>
<rect x="445" y="469" width="1" height="1" fill="#327eca"/>
<rect x="446" y="469" width="1" height="1" fill="#389ed2"/>
<rect x="447" y="469" width="1" height="1" fill="#43b676"/>
<rect x="448" y="469" width="1" height="1" fill="#45b861"/>
<rect x="449" y="469" width="1" height="1" fill="#42b581"/>
<rect x="452" y="469" width="1" height="1" fill="#3380cb"/>
<rect x="454" y="469" width="1" height="1" fill="#6385cf"/>
<rect x="444" y="470" width="1" height="1" fill="#5581cf"/>
<rect x="445" y="470" width="1" height="1" fill="#6a8dd3"/>
<rect x="446" y="470" width="1" height="1" fill="#389dd2"/>
<rect x="447" y="470" width="1" height="1" fill="#3797d1"/>
<rect x="448" y="470" width="1" height="1" fill="#3fb2ad"/>
<rect x="449" y="470" width="1" height="1" fill="#3db0c0"/>
<rect x="450" y="470" width="1" height="1" fill="#3690cf"/>
<rect x="452" y="470" width="1" height="1" fill="#2c5cc1"/>
<rect x="453" y="470" width="1" height="1" fill="#8ea1d7"/>
<rect x="439" y="471" width="1" height="1" fill="#434ca5"/>
<rect x="440" y="471" width="1" height="1" fill="#626cb6"/>
<rect x="442" y="471" width="1" height="1" fill="#5e70bd"/>
<rect x="443" y="471" width="1" height="1" fill="#2a50b5"/>
<rect x="444" y="471" width="1" height="1" fill="#3753b2"/>
<rect x="445" y="471" width="1" height="1" fill="#3256b8"/>
<rect x="446" y="471" width="1" height="1" fill="#327dca"/>
<rect x="448" y="471" width="1" height="1" fill="#3484cc"/>
<rect x="450" y="471" width="1" height="1" fill="#6379c3"/>
<rect x="452" y="471" width="1" height="1" fill="#4b5eb3"/>
<rect x="444" y="472" width="1" height="1" fill="#7387c8"/>
<rect x="447" y="472" width="1" height="1" fill="#5472c3"/>
<rect x="448" y="472" width="1" height="1" fill="#4e65ba"/>
<rect x="441" y="473" width="1" height="1" fill="#666fb8"/>
<rect x="442" y="473" width="1" height="1" fill="#5469ba"/>
<rect x="445" y="473" width="1" height="1" fill="#3949a7"/>
<rect x="436" y="474" width="1" height="1" fill="#6c72b8"/>
<rect x="438" y="474" width="1" height="1" fill="#5262b3"/>
<rect x="440" y="474" width="1" height="1" fill="#7080c3"/>
<rect x="442" y="474" width="1" height="1" fill="#5160b3"/>
<rect x="445" y="474" width="1" height="1" fill="#7984c4"/>
<rect x="446" y="474" width="1" height="1" fill="#7781c2"/>
<rect x="439" y="475" width="1" height="1" fill="#414da7"/>
<rect x="441" y="476" width="1" height="1" fill="#7782c2"/>
<rect x="442" y="476" width="1" height="1" fill="#565eae"/>
<rect x="443" y="476" width="1" height="1" fill="#8d95cb"/>
<rect x="444" y="476" width="1" height="1" fill="#5264b7"/>
<rect x="453" y="477" width="1" height="1" fill="#838ec8"/>
<rect x="441" y="479" width="1" height="1" fill="#5b62b0"/>
<line x1="445.00" y1="431.50" x2="445.00" y2="526.30" stroke="#6b6b6b" stroke-width="1.6"/>
<line x1="404.20" y1="485.00" x2="504.60" y2="485.00" stroke="#6b6b6b" stroke-width="1.6"/>
<text x="406.70" y="438.10" font-size="7.4" text-anchor="start" fill="#333" >Q1</text>
<text x="406.70" y="447.10" font-size="7.4" text-anchor="start" fill="#333" >5.02</text>
<text x="501.80" y="439.50" font-size="7.4" text-anchor="end" fill="#333" >Q2</text>
<text x="501.80" y="448.50" font-size="7.4" text-anchor="end" fill="#333" >95%</text>
<text x="501.80" y="514.20" font-size="7.4" text-anchor="end" fill="#333" >Q3</text>
<text x="501.80" y="523.40" font-size="7.4" text-anchor="end" fill="#333" >0</text>
<text x="406.70" y="514.00" font-size="7.4" text-anchor="start" fill="#333" >Q4</text>
<text x="406.70" y="523.40" font-size="7.4" text-anchor="start" fill="#333" >0.030</text>
<line x1="400.00" y1="440.50" x2="404.20" y2="440.50" stroke="#333" stroke-width="1.3"/>
<text x="399.20" y="443.30" font-size="8.0" text-anchor="end" fill="#333" >10<tspan font-size="4.6" dy="-2.9">5</tspan></text>
<line x1="400.00" y1="462.50" x2="404.20" y2="462.50" stroke="#333" stroke-width="1.3"/>
<text x="399.20" y="465.30" font-size="8.0" text-anchor="end" fill="#333" >10<tspan font-size="4.6" dy="-2.9">4</tspan></text>
<line x1="400.00" y1="489.20" x2="404.20" y2="489.20" stroke="#333" stroke-width="1.3"/>
<text x="399.20" y="492.00" font-size="8.0" text-anchor="end" fill="#333" >10<tspan font-size="4.6" dy="-2.9">3</tspan></text>
<line x1="400.00" y1="503.40" x2="404.20" y2="503.40" stroke="#333" stroke-width="1.3"/>
<text x="396.20" y="506.30" font-size="8.0" text-anchor="end" fill="#333" textLength="4.20" lengthAdjust="spacingAndGlyphs" >0</text>
<line x1="400.00" y1="520.50" x2="404.20" y2="520.50" stroke="#333" stroke-width="1.3"/>
<text x="399.20" y="523.30" font-size="8.0" text-anchor="end" fill="#333" >−10<tspan font-size="4.6" dy="-2.9">3</tspan></text>
<line x1="401.80" y1="481.16" x2="404.20" y2="481.16" stroke="#444" stroke-width="0.9"/>
<line x1="401.80" y1="476.46" x2="404.20" y2="476.46" stroke="#444" stroke-width="0.9"/>
<line x1="401.80" y1="473.12" x2="404.20" y2="473.12" stroke="#444" stroke-width="0.9"/>
<line x1="401.80" y1="470.54" x2="404.20" y2="470.54" stroke="#444" stroke-width="0.9"/>
<line x1="401.80" y1="468.42" x2="404.20" y2="468.42" stroke="#444" stroke-width="0.9"/>
<line x1="401.80" y1="466.64" x2="404.20" y2="466.64" stroke="#444" stroke-width="0.9"/>
<line x1="401.80" y1="465.09" x2="404.20" y2="465.09" stroke="#444" stroke-width="0.9"/>
<line x1="401.80" y1="463.72" x2="404.20" y2="463.72" stroke="#444" stroke-width="0.9"/>
<line x1="401.80" y1="455.88" x2="404.20" y2="455.88" stroke="#444" stroke-width="0.9"/>
<line x1="401.80" y1="452.00" x2="404.20" y2="452.00" stroke="#444" stroke-width="0.9"/>
<line x1="401.80" y1="449.25" x2="404.20" y2="449.25" stroke="#444" stroke-width="0.9"/>
<line x1="401.80" y1="447.12" x2="404.20" y2="447.12" stroke="#444" stroke-width="0.9"/>
<line x1="401.80" y1="445.38" x2="404.20" y2="445.38" stroke="#444" stroke-width="0.9"/>
<line x1="401.80" y1="443.91" x2="404.20" y2="443.91" stroke="#444" stroke-width="0.9"/>
<line x1="401.80" y1="442.63" x2="404.20" y2="442.63" stroke="#444" stroke-width="0.9"/>
<line x1="401.80" y1="441.51" x2="404.20" y2="441.51" stroke="#444" stroke-width="0.9"/>
<line x1="401.80" y1="433.88" x2="404.20" y2="433.88" stroke="#444" stroke-width="0.9"/>
<line x1="401.80" y1="493.00" x2="404.20" y2="493.00" stroke="#444" stroke-width="0.9"/>
<line x1="401.80" y1="497.00" x2="404.20" y2="497.00" stroke="#444" stroke-width="0.9"/>
<line x1="401.80" y1="500.00" x2="404.20" y2="500.00" stroke="#444" stroke-width="0.9"/>
<line x1="401.80" y1="507.50" x2="404.20" y2="507.50" stroke="#444" stroke-width="0.9"/>
<line x1="401.80" y1="511.00" x2="404.20" y2="511.00" stroke="#444" stroke-width="0.9"/>
<line x1="401.80" y1="515.00" x2="404.20" y2="515.00" stroke="#444" stroke-width="0.9"/>
<line x1="401.80" y1="524.00" x2="404.20" y2="524.00" stroke="#444" stroke-width="0.9"/>
<rect x="400.0" y="502" width="4.2" height="4.6" fill="#222"/>
<line x1="410.20" y1="526.30" x2="410.20" y2="529.80" stroke="#333" stroke-width="1.2"/>
<line x1="427.70" y1="526.30" x2="427.70" y2="529.80" stroke="#333" stroke-width="1.2"/>
<line x1="441.70" y1="526.30" x2="441.70" y2="529.80" stroke="#333" stroke-width="1.2"/>
<line x1="467.70" y1="526.30" x2="467.70" y2="529.80" stroke="#333" stroke-width="1.2"/>
<line x1="495.70" y1="526.30" x2="495.70" y2="529.80" stroke="#333" stroke-width="1.2"/>
<line x1="407.20" y1="526.30" x2="407.20" y2="528.30" stroke="#555" stroke-width="0.9"/>
<line x1="413.20" y1="526.30" x2="413.20" y2="528.30" stroke="#555" stroke-width="0.9"/>
<line x1="416.20" y1="526.30" x2="416.20" y2="528.30" stroke="#555" stroke-width="0.9"/>
<line x1="419.20" y1="526.30" x2="419.20" y2="528.30" stroke="#555" stroke-width="0.9"/>
<line x1="421.70" y1="526.30" x2="421.70" y2="528.30" stroke="#555" stroke-width="0.9"/>
<line x1="424.20" y1="526.30" x2="424.20" y2="528.30" stroke="#555" stroke-width="0.9"/>
<line x1="430.20" y1="526.30" x2="430.20" y2="528.30" stroke="#555" stroke-width="0.9"/>
<line x1="432.70" y1="526.30" x2="432.70" y2="528.30" stroke="#555" stroke-width="0.9"/>
<line x1="435.20" y1="526.30" x2="435.20" y2="528.30" stroke="#555" stroke-width="0.9"/>
<line x1="438.20" y1="526.30" x2="438.20" y2="528.30" stroke="#555" stroke-width="0.9"/>
<line x1="446.20" y1="526.30" x2="446.20" y2="528.30" stroke="#555" stroke-width="0.9"/>
<line x1="451.20" y1="526.30" x2="451.20" y2="528.30" stroke="#555" stroke-width="0.9"/>
<line x1="455.20" y1="526.30" x2="455.20" y2="528.30" stroke="#555" stroke-width="0.9"/>
<line x1="458.70" y1="526.30" x2="458.70" y2="528.30" stroke="#555" stroke-width="0.9"/>
<line x1="461.70" y1="526.30" x2="461.70" y2="528.30" stroke="#555" stroke-width="0.9"/>
<line x1="464.70" y1="526.30" x2="464.70" y2="528.30" stroke="#555" stroke-width="0.9"/>
<line x1="472.20" y1="526.30" x2="472.20" y2="528.30" stroke="#555" stroke-width="0.9"/>
<line x1="477.20" y1="526.30" x2="477.20" y2="528.30" stroke="#555" stroke-width="0.9"/>
<line x1="481.20" y1="526.30" x2="481.20" y2="528.30" stroke="#555" stroke-width="0.9"/>
<line x1="484.70" y1="526.30" x2="484.70" y2="528.30" stroke="#555" stroke-width="0.9"/>
<line x1="487.70" y1="526.30" x2="487.70" y2="528.30" stroke="#555" stroke-width="0.9"/>
<line x1="490.70" y1="526.30" x2="490.70" y2="528.30" stroke="#555" stroke-width="0.9"/>
<line x1="493.20" y1="526.30" x2="493.20" y2="528.30" stroke="#555" stroke-width="0.9"/>
<rect x="424.7" y="526.3" width="4" height="3.8" fill="#222"/>
<text x="427.40" y="539.60" font-size="8.0" text-anchor="middle" fill="#333" textLength="4.20" lengthAdjust="spacingAndGlyphs" >0</text>
<text x="469.20" y="539.60" font-size="8.0" text-anchor="middle" fill="#333" >10<tspan font-size="4.6" dy="-2.9">4</tspan></text>
<line x1="267.00" y1="542.50" x2="498.00" y2="542.50" stroke="#222" stroke-width="1.1"/>
<path d="M497 539.6 L505.5 542.5 L497 545.4Z" fill="#111"/>
<text x="295.50" y="552.70" font-size="10.4" text-anchor="middle" fill="#222" textLength="52.30" lengthAdjust="spacingAndGlyphs" >BODIPY-C11</text>
<rect x="0.5" y="0.5" width="519" height="569" fill="none" stroke="#111" stroke-width="1"/><rect x="0" y="568.4" width="520" height="1.6" fill="#111"/><rect x="518.7" y="0" width="1.3" height="570" fill="#111"/>
</svg>
</body></html>
